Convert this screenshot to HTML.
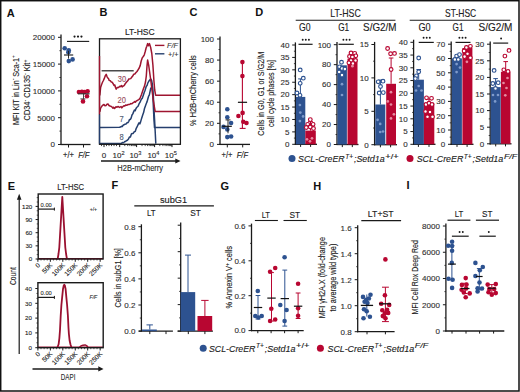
<!DOCTYPE html>
<html><head><meta charset="utf-8"><style>
html,body{margin:0;padding:0;background:#fff;}
body{width:520px;height:392px;overflow:hidden;}
svg{display:block;font-family:"Liberation Sans", sans-serif;}
</style></head><body>
<svg width="520" height="392" viewBox="0 0 520 392">
<rect x="0" y="0" width="520" height="392" fill="#fff"/>
<text transform="translate(6.80 16.60)" font-size="11" text-anchor="start" fill="#111" font-weight="bold">A</text>
<text transform="translate(99.60 16.40)" font-size="11" text-anchor="start" fill="#111" font-weight="bold">B</text>
<text transform="translate(189.60 16.40)" font-size="11" text-anchor="start" fill="#111" font-weight="bold">C</text>
<text transform="translate(255.20 16.30)" font-size="11" text-anchor="start" fill="#111" font-weight="bold">D</text>
<text transform="translate(7.70 189.80)" font-size="11" text-anchor="start" fill="#111" font-weight="bold">E</text>
<text transform="translate(111.40 189.20)" font-size="11" text-anchor="start" fill="#111" font-weight="bold">F</text>
<text transform="translate(220.40 190.30)" font-size="11" text-anchor="start" fill="#111" font-weight="bold">G</text>
<text transform="translate(313.20 190.30)" font-size="11" text-anchor="start" fill="#111" font-weight="bold">H</text>
<text transform="translate(406.60 188.60)" font-size="11" text-anchor="start" fill="#111" font-weight="bold">I</text>
<line x1="61.00" y1="34.60" x2="61.00" y2="145.10" stroke="#1a1a1a" stroke-width="1.3" />
<line x1="60.40" y1="144.50" x2="90.50" y2="144.50" stroke="#1a1a1a" stroke-width="1.3" />
<line x1="58.00" y1="144.50" x2="61.00" y2="144.50" stroke="#1a1a1a" stroke-width="1" />
<text transform="translate(55.00 147.30)" font-size="8.0" text-anchor="end" fill="#303030" stroke="#303030" stroke-width="0.12">0</text>
<line x1="59.40" y1="131.10" x2="61.00" y2="131.10" stroke="#1a1a1a" stroke-width="0.8" />
<line x1="58.00" y1="117.70" x2="61.00" y2="117.70" stroke="#1a1a1a" stroke-width="1" />
<text transform="translate(55.00 120.50)" font-size="8.0" text-anchor="end" fill="#303030" stroke="#303030" stroke-width="0.12">5000</text>
<line x1="59.40" y1="104.30" x2="61.00" y2="104.30" stroke="#1a1a1a" stroke-width="0.8" />
<line x1="58.00" y1="90.90" x2="61.00" y2="90.90" stroke="#1a1a1a" stroke-width="1" />
<text transform="translate(55.00 93.70)" font-size="8.0" text-anchor="end" fill="#303030" stroke="#303030" stroke-width="0.12">10000</text>
<line x1="59.40" y1="77.50" x2="61.00" y2="77.50" stroke="#1a1a1a" stroke-width="0.8" />
<line x1="58.00" y1="64.10" x2="61.00" y2="64.10" stroke="#1a1a1a" stroke-width="1" />
<text transform="translate(55.00 66.90)" font-size="8.0" text-anchor="end" fill="#303030" stroke="#303030" stroke-width="0.12">15000</text>
<line x1="59.40" y1="50.70" x2="61.00" y2="50.70" stroke="#1a1a1a" stroke-width="0.8" />
<line x1="58.00" y1="37.30" x2="61.00" y2="37.30" stroke="#1a1a1a" stroke-width="1" />
<text transform="translate(55.00 40.10)" font-size="8.0" text-anchor="end" fill="#303030" stroke="#303030" stroke-width="0.12">20000</text>
<line x1="68.50" y1="144.50" x2="68.50" y2="147.50" stroke="#1a1a1a" stroke-width="1" />
<line x1="83.50" y1="144.50" x2="83.50" y2="147.50" stroke="#1a1a1a" stroke-width="1" />
<text transform="translate(68.50 158.40) scale(0.92 1)" font-size="8.2" text-anchor="middle" fill="#202020" stroke="#202020" stroke-width="0.12">+/+</text>
<text transform="translate(83.80 158.40) scale(0.92 1)" font-size="8.2" text-anchor="middle" fill="#202020" font-style="italic" stroke="#202020" stroke-width="0.12">F/F</text>
<circle cx="74.55" cy="36.60" r="1.1" fill="#1a1a1a" stroke="none" stroke-width="0"/>
<circle cx="78.00" cy="36.60" r="1.1" fill="#1a1a1a" stroke="none" stroke-width="0"/>
<circle cx="81.45" cy="36.60" r="1.1" fill="#1a1a1a" stroke="none" stroke-width="0"/>
<line x1="67.00" y1="41.40" x2="89.20" y2="41.40" stroke="#1a1a1a" stroke-width="1.1" />
<circle cx="64.70" cy="48.20" r="2.3" fill="#2d5290" stroke="none" stroke-width="0"/>
<circle cx="68.80" cy="50.40" r="2.3" fill="#2d5290" stroke="none" stroke-width="0"/>
<circle cx="68.30" cy="52.30" r="2.3" fill="#2d5290" stroke="none" stroke-width="0"/>
<circle cx="72.60" cy="59.40" r="2.3" fill="#2d5290" stroke="none" stroke-width="0"/>
<circle cx="68.80" cy="61.10" r="2.3" fill="#2d5290" stroke="none" stroke-width="0"/>
<line x1="68.50" y1="50.90" x2="68.50" y2="58.60" stroke="#1a1a1a" stroke-width="0.9" />
<line x1="64.00" y1="55.00" x2="73.20" y2="55.00" stroke="#1a1a1a" stroke-width="1.1" />
<circle cx="78.90" cy="92.00" r="2.3" fill="#b80631" stroke="none" stroke-width="0"/>
<circle cx="81.90" cy="91.70" r="2.3" fill="#b80631" stroke="none" stroke-width="0"/>
<circle cx="84.50" cy="92.00" r="2.3" fill="#b80631" stroke="none" stroke-width="0"/>
<circle cx="87.60" cy="91.20" r="2.3" fill="#b80631" stroke="none" stroke-width="0"/>
<circle cx="87.00" cy="96.30" r="2.3" fill="#b80631" stroke="none" stroke-width="0"/>
<circle cx="83.00" cy="101.40" r="2.3" fill="#b80631" stroke="none" stroke-width="0"/>
<line x1="77.90" y1="93.80" x2="89.60" y2="93.80" stroke="#333" stroke-width="1.1" />
<line x1="83.50" y1="93.80" x2="83.50" y2="98.90" stroke="#333" stroke-width="0.9" />
<line x1="80.40" y1="98.90" x2="85.50" y2="98.90" stroke="#333" stroke-width="0.9" />
<text transform="translate(18.60 90.05) rotate(-90)" font-size="9.0" text-anchor="middle" fill="#202020" textLength="69.9" lengthAdjust="spacingAndGlyphs" stroke="#202020" stroke-width="0.12">MFI KIT in Lin<tspan font-size='6' dy='-3.2'>-</tspan><tspan dy='3.2'> Sca-1</tspan><tspan font-size='6' dy='-3.2'>+</tspan></text>
<text transform="translate(30.20 90.05) rotate(-90)" font-size="9.0" text-anchor="middle" fill="#202020" textLength="60.7" lengthAdjust="spacingAndGlyphs" stroke="#202020" stroke-width="0.12">CD34<tspan font-size='6' dy='-3.2'>-</tspan><tspan dy='3.2'> CD135</tspan><tspan font-size='6' dy='-3.2'>-</tspan><tspan dy='3.2'> Kit</tspan><tspan font-size='6' dy='-3.2'>+</tspan></text>
<text transform="translate(139.80 35.20)" font-size="9.8" text-anchor="middle" fill="#202020" textLength="29.8" lengthAdjust="spacingAndGlyphs" stroke="#202020" stroke-width="0.12">LT-HSC</text>
<line x1="155.00" y1="45.40" x2="164.40" y2="45.40" stroke="#9e1530" stroke-width="1.4" />
<line x1="155.00" y1="53.80" x2="164.40" y2="53.80" stroke="#253f6e" stroke-width="1.4" />
<text transform="translate(172.40 48.40)" font-size="8.0" text-anchor="middle" fill="#333" font-style="italic" textLength="11.0" lengthAdjust="spacingAndGlyphs" stroke="#333" stroke-width="0.12">F/F</text>
<text transform="translate(173.20 57.00)" font-size="8.0" text-anchor="middle" fill="#333" textLength="10.5" lengthAdjust="spacingAndGlyphs" stroke="#333" stroke-width="0.12">+/+</text>
<line x1="101.60" y1="70.80" x2="133.70" y2="70.80" stroke="#4a4a4a" stroke-width="1.4" />
<path d="M99.8,143.6 L121.4,143.4 L122.3,142.4 L123.1,142.8 L124.0,142.3 L124.8,141.5 L125.5,141.5 L126.3,140.7 L127.4,140.2 L128.5,139.0 L129.4,137.0 L130.4,137.0 L131.4,134.0 L132.4,133.4 L133.2,133.5 L134.0,132.0 L135.3,131.3 L136.1,128.7 L136.9,127.2 L138.2,124.4 L139.0,122.9 L139.8,123.9 L140.6,121.9 L141.6,118.4 L142.7,115.0 L143.6,112.6 L144.5,108.5 L145.4,105.9 L146.3,103.5 L147.1,101.6 L147.8,99.0 L148.6,96.2 L149.3,95.1 L150.7,88.5 L151.5,87.5 L152.4,86.8 L153.3,95.0 L153.9,108.3 L154.6,120.0 L155.2,131.8 L155.8,143.6" stroke="#253f6e" stroke-width="1.5" fill="none" stroke-linejoin="round" />
<path d="M99.8,127.6 L119.4,127.3 L120.5,127.1 L121.5,126.3 L122.3,126.6 L123.1,125.2 L124.0,124.8 L125.0,124.2 L126.0,124.1 L127.1,122.8 L128.0,122.5 L128.8,121.3 L129.6,119.4 L130.4,119.5 L131.2,117.9 L132.0,115.0 L132.8,113.9 L133.6,111.9 L134.4,110.0 L135.2,110.7 L136.0,108.5 L136.8,107.3 L137.5,106.7 L138.2,106.0 L139.0,103.9 L140.1,102.2 L141.2,99.5 L142.3,98.3 L143.4,95.1 L144.2,92.5 L145.0,90.5 L146.3,86.3 L147.1,85.4 L147.8,83.0 L148.6,81.6 L149.3,80.5 L150.7,79.0 L151.6,80.5 L152.3,84.0 L152.9,95.0 L153.5,110.0 L154.0,120.0 L154.5,127.6 L180.4,127.6" stroke="#253f6e" stroke-width="1.5" fill="none" stroke-linejoin="round" />
<path d="M99.8,111.8 L100.5,108.5 L101.3,107.0 L102.0,106.0 L103.0,105.0 L104.0,104.5 L105.0,105.8 L106.0,105.5 L107.0,104.3 L108.0,104.0 L109.0,105.5 L110.0,106.0 L111.0,106.3 L112.0,107.0 L112.8,108.1 L113.5,107.2 L114.2,108.5 L115.0,108.0 L116.0,106.7 L117.0,107.3 L117.9,106.5 L118.7,106.8 L119.6,107.5 L121.0,106.5 L121.8,107.9 L122.5,107.0 L123.3,106.2 L124.2,105.7 L125.0,105.9 L125.7,105.0 L126.5,105.3 L127.3,105.1 L128.0,104.6 L128.8,104.6 L130.0,104.2 L130.8,103.6 L131.5,103.8 L132.3,103.5 L133.1,102.7 L133.8,102.3 L134.6,101.5 L135.3,102.3 L136.1,101.2 L137.5,100.3 L138.7,99.6 L139.6,98.9 L140.4,97.3 L141.5,94.5 L142.5,91.5 L143.5,88.5 L144.5,86.1 L145.5,82.0 L146.3,76.0 L147.0,66.0 L147.6,60.0 L148.8,66.0 L150.8,80.5 L152.0,90.0 L153.2,99.5 L154.2,106.0 L155.2,111.6 L180.4,111.6" stroke="#9e1530" stroke-width="1.5" fill="none" stroke-linejoin="round" />
<path d="M99.8,95.5 L100.6,87.6 L101.6,84.5 L102.6,82.0 L103.4,80.5 L104.1,78.9 L105.2,76.0 L106.2,74.3 L107.0,76.5 L107.7,77.9 L108.5,78.5 L109.2,80.4 L110.3,80.8 L111.3,82.0 L112.3,82.3 L113.3,84.0 L114.0,85.5 L114.8,85.0 L115.5,87.5 L116.2,89.1 L117.2,87.5 L118.4,87.6 L119.8,86.2 L120.7,86.7 L121.5,85.5 L122.2,86.9 L123.0,86.0 L123.8,85.9 L124.5,85.0 L125.6,83.2 L126.6,82.0 L128.0,80.5 L128.8,78.9 L129.6,78.9 L130.7,78.6 L131.7,77.3 L132.7,76.0 L133.7,74.3 L134.8,74.0 L135.8,72.8 L137.0,71.5 L138.2,69.6 L139.2,68.0 L140.2,65.6 L141.2,61.0 L142.2,57.9 L143.3,56.5 L144.3,54.8 L145.3,51.3 L146.1,48.0 L146.8,46.2 L147.6,43.6 L148.4,45.7 L149.4,43.6 L150.6,47.2 L151.8,53.5 L152.9,65.0 L153.9,80.5 L154.7,90.0 L155.6,95.2 L180.4,95.2" stroke="#9e1530" stroke-width="1.5" fill="none" stroke-linejoin="round" />
<text transform="translate(122.00 82.00) scale(0.92 1)" font-size="8.2" text-anchor="middle" fill="#9a5060" stroke="#9a5060" stroke-width="0.12">30</text>
<text transform="translate(121.80 103.20) scale(0.92 1)" font-size="8.2" text-anchor="middle" fill="#9a5060" stroke="#9a5060" stroke-width="0.12">20</text>
<text transform="translate(121.60 122.00) scale(0.92 1)" font-size="8.2" text-anchor="middle" fill="#4e5a74" stroke="#4e5a74" stroke-width="0.12">7</text>
<text transform="translate(121.60 139.60) scale(0.92 1)" font-size="8.2" text-anchor="middle" fill="#4e5a74" stroke="#4e5a74" stroke-width="0.12">8</text>
<rect x="99.5" y="38.8" width="80.9" height="105.50000000000001" fill="none" stroke="#1a1a1a" stroke-width="1.3"/>
<line x1="99.50" y1="56.00" x2="99.50" y2="114.50" stroke="#9e1530" stroke-width="1.4" />
<line x1="99.50" y1="114.50" x2="99.50" y2="143.60" stroke="#253f6e" stroke-width="1.4" />
<line x1="104.00" y1="144.30" x2="104.00" y2="147.10" stroke="#1a1a1a" stroke-width="1.0" />
<line x1="119.70" y1="144.30" x2="119.70" y2="147.10" stroke="#1a1a1a" stroke-width="1.0" />
<line x1="136.60" y1="144.30" x2="136.60" y2="147.10" stroke="#1a1a1a" stroke-width="1.0" />
<line x1="154.60" y1="144.30" x2="154.60" y2="147.10" stroke="#1a1a1a" stroke-width="1.0" />
<line x1="172.00" y1="144.30" x2="172.00" y2="147.10" stroke="#1a1a1a" stroke-width="1.0" />
<line x1="124.79" y1="144.30" x2="124.79" y2="146.10" stroke="#1a1a1a" stroke-width="0.8" />
<line x1="127.76" y1="144.30" x2="127.76" y2="146.10" stroke="#1a1a1a" stroke-width="0.8" />
<line x1="129.87" y1="144.30" x2="129.87" y2="146.10" stroke="#1a1a1a" stroke-width="0.8" />
<line x1="131.51" y1="144.30" x2="131.51" y2="146.10" stroke="#1a1a1a" stroke-width="0.8" />
<line x1="132.85" y1="144.30" x2="132.85" y2="146.10" stroke="#1a1a1a" stroke-width="0.8" />
<line x1="133.98" y1="144.30" x2="133.98" y2="146.10" stroke="#1a1a1a" stroke-width="0.8" />
<line x1="134.96" y1="144.30" x2="134.96" y2="146.10" stroke="#1a1a1a" stroke-width="0.8" />
<line x1="135.83" y1="144.30" x2="135.83" y2="146.10" stroke="#1a1a1a" stroke-width="0.8" />
<line x1="142.02" y1="144.30" x2="142.02" y2="146.10" stroke="#1a1a1a" stroke-width="0.8" />
<line x1="145.19" y1="144.30" x2="145.19" y2="146.10" stroke="#1a1a1a" stroke-width="0.8" />
<line x1="147.44" y1="144.30" x2="147.44" y2="146.10" stroke="#1a1a1a" stroke-width="0.8" />
<line x1="149.18" y1="144.30" x2="149.18" y2="146.10" stroke="#1a1a1a" stroke-width="0.8" />
<line x1="150.61" y1="144.30" x2="150.61" y2="146.10" stroke="#1a1a1a" stroke-width="0.8" />
<line x1="151.81" y1="144.30" x2="151.81" y2="146.10" stroke="#1a1a1a" stroke-width="0.8" />
<line x1="152.86" y1="144.30" x2="152.86" y2="146.10" stroke="#1a1a1a" stroke-width="0.8" />
<line x1="153.78" y1="144.30" x2="153.78" y2="146.10" stroke="#1a1a1a" stroke-width="0.8" />
<line x1="159.84" y1="144.30" x2="159.84" y2="146.10" stroke="#1a1a1a" stroke-width="0.8" />
<line x1="162.90" y1="144.30" x2="162.90" y2="146.10" stroke="#1a1a1a" stroke-width="0.8" />
<line x1="165.08" y1="144.30" x2="165.08" y2="146.10" stroke="#1a1a1a" stroke-width="0.8" />
<line x1="166.76" y1="144.30" x2="166.76" y2="146.10" stroke="#1a1a1a" stroke-width="0.8" />
<line x1="168.14" y1="144.30" x2="168.14" y2="146.10" stroke="#1a1a1a" stroke-width="0.8" />
<line x1="169.30" y1="144.30" x2="169.30" y2="146.10" stroke="#1a1a1a" stroke-width="0.8" />
<line x1="170.31" y1="144.30" x2="170.31" y2="146.10" stroke="#1a1a1a" stroke-width="0.8" />
<line x1="171.20" y1="144.30" x2="171.20" y2="146.10" stroke="#1a1a1a" stroke-width="0.8" />
<line x1="101.50" y1="144.30" x2="101.50" y2="146.10" stroke="#1a1a1a" stroke-width="0.8" />
<line x1="106.50" y1="144.30" x2="106.50" y2="146.10" stroke="#1a1a1a" stroke-width="0.8" />
<line x1="109.00" y1="144.30" x2="109.00" y2="146.10" stroke="#1a1a1a" stroke-width="0.8" />
<line x1="111.50" y1="144.30" x2="111.50" y2="146.10" stroke="#1a1a1a" stroke-width="0.8" />
<line x1="114.00" y1="144.30" x2="114.00" y2="146.10" stroke="#1a1a1a" stroke-width="0.8" />
<line x1="116.50" y1="144.30" x2="116.50" y2="146.10" stroke="#1a1a1a" stroke-width="0.8" />
<text transform="translate(104.00 158.20)" font-size="8.0" text-anchor="middle" fill="#2a2a2a" stroke="#2a2a2a" stroke-width="0.12">0</text>
<text transform="translate(118.50 158.20)" font-size="8.0" text-anchor="middle" fill="#2a2a2a" stroke="#2a2a2a" stroke-width="0.12">10<tspan font-size='5.6' dy='-3.4'>2</tspan></text>
<text transform="translate(135.40 158.20)" font-size="8.0" text-anchor="middle" fill="#2a2a2a" stroke="#2a2a2a" stroke-width="0.12">10<tspan font-size='5.6' dy='-3.4'>3</tspan></text>
<text transform="translate(153.40 158.20)" font-size="8.0" text-anchor="middle" fill="#2a2a2a" stroke="#2a2a2a" stroke-width="0.12">10<tspan font-size='5.6' dy='-3.4'>4</tspan></text>
<text transform="translate(170.80 158.20)" font-size="8.0" text-anchor="middle" fill="#2a2a2a" stroke="#2a2a2a" stroke-width="0.12">10<tspan font-size='5.6' dy='-3.4'>5</tspan></text>
<line x1="101.00" y1="160.90" x2="176.50" y2="160.90" stroke="#1a1a1a" stroke-width="1.5" />
<path d="M175.3,158.4 L180.5,161 L175.3,163.6 Z" fill="#1a1a1a"/>
<text transform="translate(140.20 171.30)" font-size="9.6" text-anchor="middle" fill="#2a2a2a" textLength="45.8" lengthAdjust="spacingAndGlyphs" stroke="#2a2a2a" stroke-width="0.12">H2B-mCherry</text>
<line x1="220.00" y1="36.60" x2="220.00" y2="145.00" stroke="#1a1a1a" stroke-width="1.3" />
<line x1="219.40" y1="144.40" x2="250.00" y2="144.40" stroke="#1a1a1a" stroke-width="1.3" />
<line x1="217.00" y1="144.40" x2="220.00" y2="144.40" stroke="#1a1a1a" stroke-width="1" />
<text transform="translate(214.00 147.20)" font-size="8.0" text-anchor="end" fill="#303030" stroke="#303030" stroke-width="0.12">0</text>
<line x1="218.50" y1="133.86" x2="220.00" y2="133.86" stroke="#1a1a1a" stroke-width="0.8" />
<line x1="217.00" y1="123.32" x2="220.00" y2="123.32" stroke="#1a1a1a" stroke-width="1" />
<text transform="translate(214.00 126.12)" font-size="8.0" text-anchor="end" fill="#303030" stroke="#303030" stroke-width="0.12">20</text>
<line x1="218.50" y1="112.78" x2="220.00" y2="112.78" stroke="#1a1a1a" stroke-width="0.8" />
<line x1="217.00" y1="102.24" x2="220.00" y2="102.24" stroke="#1a1a1a" stroke-width="1" />
<text transform="translate(214.00 105.04)" font-size="8.0" text-anchor="end" fill="#303030" stroke="#303030" stroke-width="0.12">40</text>
<line x1="218.50" y1="91.70" x2="220.00" y2="91.70" stroke="#1a1a1a" stroke-width="0.8" />
<line x1="217.00" y1="81.16" x2="220.00" y2="81.16" stroke="#1a1a1a" stroke-width="1" />
<text transform="translate(214.00 83.96)" font-size="8.0" text-anchor="end" fill="#303030" stroke="#303030" stroke-width="0.12">60</text>
<line x1="218.50" y1="70.62" x2="220.00" y2="70.62" stroke="#1a1a1a" stroke-width="0.8" />
<line x1="217.00" y1="60.08" x2="220.00" y2="60.08" stroke="#1a1a1a" stroke-width="1" />
<text transform="translate(214.00 62.88)" font-size="8.0" text-anchor="end" fill="#303030" stroke="#303030" stroke-width="0.12">80</text>
<line x1="218.50" y1="49.54" x2="220.00" y2="49.54" stroke="#1a1a1a" stroke-width="0.8" />
<line x1="217.00" y1="39.00" x2="220.00" y2="39.00" stroke="#1a1a1a" stroke-width="1" />
<text transform="translate(214.00 41.80)" font-size="8.0" text-anchor="end" fill="#303030" stroke="#303030" stroke-width="0.12">100</text>
<line x1="227.30" y1="144.40" x2="227.30" y2="147.40" stroke="#1a1a1a" stroke-width="1" />
<line x1="242.70" y1="144.40" x2="242.70" y2="147.40" stroke="#1a1a1a" stroke-width="1" />
<text transform="translate(227.00 158.00) scale(0.92 1)" font-size="8.2" text-anchor="middle" fill="#202020" stroke="#202020" stroke-width="0.12">+/+</text>
<text transform="translate(242.40 158.00) scale(0.92 1)" font-size="8.2" text-anchor="middle" fill="#202020" font-style="italic" stroke="#202020" stroke-width="0.12">F/F</text>
<text transform="translate(196.40 90.55) rotate(-90)" font-size="9.0" text-anchor="middle" fill="#202020" textLength="70.7" lengthAdjust="spacingAndGlyphs" stroke="#202020" stroke-width="0.12">% H2B-mCherry cells</text>
<line x1="242.40" y1="62.00" x2="242.40" y2="128.40" stroke="#b80631" stroke-width="1.1" />
<line x1="239.70" y1="128.40" x2="245.60" y2="128.40" stroke="#b80631" stroke-width="1.1" />
<line x1="237.90" y1="102.30" x2="247.10" y2="102.30" stroke="#111" stroke-width="1.2" />
<circle cx="242.40" cy="62.10" r="2.3" fill="#b80631" stroke="none" stroke-width="0"/>
<circle cx="242.40" cy="76.10" r="2.3" fill="#b80631" stroke="none" stroke-width="0"/>
<circle cx="242.60" cy="112.90" r="2.3" fill="#b80631" stroke="none" stroke-width="0"/>
<circle cx="238.40" cy="116.00" r="2.3" fill="#b80631" stroke="none" stroke-width="0"/>
<circle cx="243.30" cy="121.80" r="2.3" fill="#b80631" stroke="none" stroke-width="0"/>
<circle cx="246.50" cy="123.00" r="2.3" fill="#b80631" stroke="none" stroke-width="0"/>
<circle cx="227.30" cy="109.30" r="2.3" fill="#2d5290" stroke="none" stroke-width="0"/>
<circle cx="227.30" cy="117.30" r="2.3" fill="#2d5290" stroke="none" stroke-width="0"/>
<circle cx="231.10" cy="123.00" r="2.3" fill="#2d5290" stroke="none" stroke-width="0"/>
<circle cx="223.50" cy="126.90" r="2.3" fill="#2d5290" stroke="none" stroke-width="0"/>
<circle cx="227.30" cy="129.40" r="2.3" fill="#2d5290" stroke="none" stroke-width="0"/>
<circle cx="227.30" cy="137.10" r="2.3" fill="#2d5290" stroke="none" stroke-width="0"/>
<circle cx="231.10" cy="136.50" r="2.3" fill="#2d5290" stroke="none" stroke-width="0"/>
<line x1="228.00" y1="119.90" x2="228.00" y2="133.30" stroke="#111" stroke-width="0.9" />
<line x1="225.50" y1="119.90" x2="230.50" y2="119.90" stroke="#111" stroke-width="0.9" />
<line x1="222.20" y1="126.30" x2="231.80" y2="126.30" stroke="#111" stroke-width="1.2" />
<text transform="translate(345.50 16.60)" font-size="10.4" text-anchor="middle" fill="#202020" textLength="30.5" lengthAdjust="spacingAndGlyphs" stroke="#202020" stroke-width="0.12">LT-HSC</text>
<text transform="translate(460.60 16.80)" font-size="10.4" text-anchor="middle" fill="#202020" textLength="31.2" lengthAdjust="spacingAndGlyphs" stroke="#202020" stroke-width="0.12">ST-HSC</text>
<line x1="295.70" y1="20.30" x2="395.40" y2="20.30" stroke="#1a1a1a" stroke-width="1.1" />
<line x1="409.70" y1="20.30" x2="510.30" y2="20.30" stroke="#1a1a1a" stroke-width="1.1" />
<text transform="translate(304.70 31.30)" font-size="10.2" text-anchor="middle" fill="#202020" textLength="11.6" lengthAdjust="spacingAndGlyphs" stroke="#202020" stroke-width="0.12">G0</text>
<text transform="translate(343.70 31.30)" font-size="10.2" text-anchor="middle" fill="#202020" textLength="11" lengthAdjust="spacingAndGlyphs" stroke="#202020" stroke-width="0.12">G1</text>
<text transform="translate(379.80 31.30)" font-size="10.2" text-anchor="middle" fill="#202020" textLength="33.4" lengthAdjust="spacingAndGlyphs" stroke="#202020" stroke-width="0.12">S/G2/M</text>
<text transform="translate(424.60 31.30)" font-size="10.2" text-anchor="middle" fill="#202020" textLength="12.2" lengthAdjust="spacingAndGlyphs" stroke="#202020" stroke-width="0.12">G0</text>
<text transform="translate(458.00 31.30)" font-size="10.2" text-anchor="middle" fill="#202020" textLength="10.9" lengthAdjust="spacingAndGlyphs" stroke="#202020" stroke-width="0.12">G1</text>
<text transform="translate(495.50 31.30)" font-size="10.2" text-anchor="middle" fill="#202020" textLength="33.9" lengthAdjust="spacingAndGlyphs" stroke="#202020" stroke-width="0.12">S/G2/M</text>
<line x1="295.40" y1="42.40" x2="295.40" y2="144.90" stroke="#1a1a1a" stroke-width="1.3" />
<line x1="292.20" y1="144.30" x2="295.40" y2="144.30" stroke="#1a1a1a" stroke-width="1" />
<text transform="translate(289.40 147.10)" font-size="8.0" text-anchor="end" fill="#303030" stroke="#303030" stroke-width="0.12">0</text>
<line x1="292.20" y1="131.89" x2="295.40" y2="131.89" stroke="#1a1a1a" stroke-width="1" />
<text transform="translate(289.40 134.69)" font-size="8.0" text-anchor="end" fill="#303030" stroke="#303030" stroke-width="0.12">5</text>
<line x1="292.20" y1="119.48" x2="295.40" y2="119.48" stroke="#1a1a1a" stroke-width="1" />
<text transform="translate(289.40 122.28)" font-size="8.0" text-anchor="end" fill="#303030" stroke="#303030" stroke-width="0.12">10</text>
<line x1="292.20" y1="107.06" x2="295.40" y2="107.06" stroke="#1a1a1a" stroke-width="1" />
<text transform="translate(289.40 109.86)" font-size="8.0" text-anchor="end" fill="#303030" stroke="#303030" stroke-width="0.12">15</text>
<line x1="292.20" y1="94.65" x2="295.40" y2="94.65" stroke="#1a1a1a" stroke-width="1" />
<text transform="translate(289.40 97.45)" font-size="8.0" text-anchor="end" fill="#303030" stroke="#303030" stroke-width="0.12">20</text>
<line x1="292.20" y1="82.24" x2="295.40" y2="82.24" stroke="#1a1a1a" stroke-width="1" />
<text transform="translate(289.40 85.04)" font-size="8.0" text-anchor="end" fill="#303030" stroke="#303030" stroke-width="0.12">25</text>
<line x1="292.20" y1="69.83" x2="295.40" y2="69.83" stroke="#1a1a1a" stroke-width="1" />
<text transform="translate(289.40 72.62)" font-size="8.0" text-anchor="end" fill="#303030" stroke="#303030" stroke-width="0.12">30</text>
<line x1="292.20" y1="57.41" x2="295.40" y2="57.41" stroke="#1a1a1a" stroke-width="1" />
<text transform="translate(289.40 60.21)" font-size="8.0" text-anchor="end" fill="#303030" stroke="#303030" stroke-width="0.12">35</text>
<line x1="292.20" y1="45.00" x2="295.40" y2="45.00" stroke="#1a1a1a" stroke-width="1" />
<text transform="translate(289.40 47.80)" font-size="8.0" text-anchor="end" fill="#303030" stroke="#303030" stroke-width="0.12">40</text>
<line x1="293.90" y1="138.09" x2="295.40" y2="138.09" stroke="#1a1a1a" stroke-width="0.8" />
<line x1="293.90" y1="125.68" x2="295.40" y2="125.68" stroke="#1a1a1a" stroke-width="0.8" />
<line x1="293.90" y1="113.27" x2="295.40" y2="113.27" stroke="#1a1a1a" stroke-width="0.8" />
<line x1="293.90" y1="100.86" x2="295.40" y2="100.86" stroke="#1a1a1a" stroke-width="0.8" />
<line x1="293.90" y1="88.44" x2="295.40" y2="88.44" stroke="#1a1a1a" stroke-width="0.8" />
<line x1="293.90" y1="76.03" x2="295.40" y2="76.03" stroke="#1a1a1a" stroke-width="0.8" />
<line x1="293.90" y1="63.62" x2="295.40" y2="63.62" stroke="#1a1a1a" stroke-width="0.8" />
<line x1="293.90" y1="51.21" x2="295.40" y2="51.21" stroke="#1a1a1a" stroke-width="0.8" />
<line x1="294.90" y1="144.30" x2="317.00" y2="144.30" stroke="#1a1a1a" stroke-width="1.3" />
<line x1="300.60" y1="144.30" x2="300.60" y2="146.90" stroke="#1a1a1a" stroke-width="1" />
<line x1="310.60" y1="144.30" x2="310.60" y2="146.90" stroke="#1a1a1a" stroke-width="1" />
<line x1="300.40" y1="96.90" x2="300.40" y2="78.90" stroke="#2d5290" stroke-width="1.0" />
<line x1="298.10" y1="78.90" x2="302.70" y2="78.90" stroke="#2d5290" stroke-width="1.0" />
<rect x="295.90" y="96.90" width="9.40" height="47.40" fill="#2d5290" stroke="none" stroke-width="0"/>
<rect x="305.30" y="130.60" width="10.50" height="13.70" fill="#b80631" stroke="none" stroke-width="0"/>
<line x1="310.50" y1="130.60" x2="310.50" y2="121.50" stroke="#b80631" stroke-width="1.0" />
<line x1="308.20" y1="121.50" x2="312.80" y2="121.50" stroke="#b80631" stroke-width="1.0" />
<circle cx="300.20" cy="69.90" r="1.85" fill="#ffffff" stroke="#2d5290" stroke-width="1.15"/>
<circle cx="303.30" cy="78.20" r="1.85" fill="#ffffff" stroke="#2d5290" stroke-width="1.15"/>
<circle cx="300.20" cy="83.30" r="1.85" fill="#ffffff" stroke="#2d5290" stroke-width="1.15"/>
<circle cx="296.90" cy="93.00" r="1.85" fill="#ffffff" stroke="#2d5290" stroke-width="1.15"/>
<circle cx="300.00" cy="95.30" r="1.85" fill="#ffffff" stroke="#2d5290" stroke-width="1.15"/>
<circle cx="299.90" cy="105.00" r="1.35" fill="#7f9bcb" stroke="none" stroke-width="0"/>
<circle cx="300.30" cy="112.60" r="1.35" fill="#7f9bcb" stroke="none" stroke-width="0"/>
<circle cx="303.10" cy="116.40" r="1.35" fill="#7f9bcb" stroke="none" stroke-width="0"/>
<circle cx="299.90" cy="121.10" r="1.35" fill="#7f9bcb" stroke="none" stroke-width="0"/>
<circle cx="310.30" cy="119.60" r="1.85" fill="#ffffff" stroke="#b80631" stroke-width="1.15"/>
<circle cx="307.70" cy="124.30" r="1.85" fill="#ffffff" stroke="#b80631" stroke-width="1.15"/>
<circle cx="313.10" cy="124.30" r="1.85" fill="#ffffff" stroke="#b80631" stroke-width="1.15"/>
<circle cx="310.30" cy="127.00" r="1.85" fill="#ffffff" stroke="#b80631" stroke-width="1.15"/>
<circle cx="306.30" cy="127.50" r="1.85" fill="#ffffff" stroke="#b80631" stroke-width="1.15"/>
<circle cx="313.50" cy="128.50" r="1.85" fill="#ffffff" stroke="#b80631" stroke-width="1.15"/>
<circle cx="307.00" cy="139.30" r="1.35" fill="#e58aa0" stroke="none" stroke-width="0"/>
<circle cx="312.00" cy="138.30" r="1.35" fill="#e58aa0" stroke="none" stroke-width="0"/>
<circle cx="310.00" cy="141.30" r="1.35" fill="#e58aa0" stroke="none" stroke-width="0"/>
<circle cx="302.70" cy="39.70" r="0.95" fill="#1a1a1a" stroke="none" stroke-width="0"/>
<circle cx="305.80" cy="39.70" r="0.95" fill="#1a1a1a" stroke="none" stroke-width="0"/>
<circle cx="308.90" cy="39.70" r="0.95" fill="#1a1a1a" stroke="none" stroke-width="0"/>
<line x1="298.50" y1="44.30" x2="312.60" y2="44.30" stroke="#1a1a1a" stroke-width="1.2" />
<line x1="337.00" y1="42.10" x2="337.00" y2="145.10" stroke="#1a1a1a" stroke-width="1.3" />
<line x1="333.80" y1="144.50" x2="337.00" y2="144.50" stroke="#1a1a1a" stroke-width="1" />
<text transform="translate(331.00 147.30)" font-size="8.0" text-anchor="end" fill="#303030" stroke="#303030" stroke-width="0.12">0</text>
<line x1="333.80" y1="124.54" x2="337.00" y2="124.54" stroke="#1a1a1a" stroke-width="1" />
<text transform="translate(331.00 127.34)" font-size="8.0" text-anchor="end" fill="#303030" stroke="#303030" stroke-width="0.12">20</text>
<line x1="333.80" y1="104.58" x2="337.00" y2="104.58" stroke="#1a1a1a" stroke-width="1" />
<text transform="translate(331.00 107.38)" font-size="8.0" text-anchor="end" fill="#303030" stroke="#303030" stroke-width="0.12">40</text>
<line x1="333.80" y1="84.62" x2="337.00" y2="84.62" stroke="#1a1a1a" stroke-width="1" />
<text transform="translate(331.00 87.42)" font-size="8.0" text-anchor="end" fill="#303030" stroke="#303030" stroke-width="0.12">60</text>
<line x1="333.80" y1="64.66" x2="337.00" y2="64.66" stroke="#1a1a1a" stroke-width="1" />
<text transform="translate(331.00 67.46)" font-size="8.0" text-anchor="end" fill="#303030" stroke="#303030" stroke-width="0.12">80</text>
<line x1="333.80" y1="44.70" x2="337.00" y2="44.70" stroke="#1a1a1a" stroke-width="1" />
<text transform="translate(331.00 47.50)" font-size="8.0" text-anchor="end" fill="#303030" stroke="#303030" stroke-width="0.12">100</text>
<line x1="335.50" y1="134.52" x2="337.00" y2="134.52" stroke="#1a1a1a" stroke-width="0.8" />
<line x1="335.50" y1="114.56" x2="337.00" y2="114.56" stroke="#1a1a1a" stroke-width="0.8" />
<line x1="335.50" y1="94.60" x2="337.00" y2="94.60" stroke="#1a1a1a" stroke-width="0.8" />
<line x1="335.50" y1="74.64" x2="337.00" y2="74.64" stroke="#1a1a1a" stroke-width="0.8" />
<line x1="335.50" y1="54.68" x2="337.00" y2="54.68" stroke="#1a1a1a" stroke-width="0.8" />
<line x1="336.50" y1="144.50" x2="358.50" y2="144.50" stroke="#1a1a1a" stroke-width="1.3" />
<line x1="342.30" y1="144.50" x2="342.30" y2="147.10" stroke="#1a1a1a" stroke-width="1" />
<line x1="352.30" y1="144.50" x2="352.30" y2="147.10" stroke="#1a1a1a" stroke-width="1" />
<rect x="337.50" y="65.30" width="9.40" height="79.20" fill="#2d5290" stroke="none" stroke-width="0"/>
<rect x="347.50" y="58.80" width="10.00" height="85.70" fill="#b80631" stroke="none" stroke-width="0"/>
<circle cx="341.50" cy="62.20" r="1.85" fill="#ffffff" stroke="#2d5290" stroke-width="1.15"/>
<circle cx="339.50" cy="66.80" r="1.85" fill="#ffffff" stroke="#2d5290" stroke-width="1.15"/>
<circle cx="342.00" cy="68.50" r="1.85" fill="#ffffff" stroke="#2d5290" stroke-width="1.15"/>
<circle cx="344.90" cy="69.10" r="1.85" fill="#ffffff" stroke="#2d5290" stroke-width="1.15"/>
<circle cx="339.20" cy="72.00" r="1.85" fill="#ffffff" stroke="#2d5290" stroke-width="1.15"/>
<circle cx="342.00" cy="75.10" r="1.85" fill="#ffffff" stroke="#2d5290" stroke-width="1.15"/>
<circle cx="342.00" cy="84.20" r="1.35" fill="#7f9bcb" stroke="none" stroke-width="0"/>
<circle cx="342.00" cy="95.00" r="1.35" fill="#7f9bcb" stroke="none" stroke-width="0"/>
<circle cx="351.00" cy="53.00" r="1.85" fill="#ffffff" stroke="#b80631" stroke-width="1.15"/>
<circle cx="354.70" cy="53.30" r="1.85" fill="#ffffff" stroke="#b80631" stroke-width="1.15"/>
<circle cx="355.80" cy="55.80" r="1.85" fill="#ffffff" stroke="#b80631" stroke-width="1.15"/>
<circle cx="349.50" cy="56.50" r="1.85" fill="#ffffff" stroke="#b80631" stroke-width="1.15"/>
<circle cx="352.40" cy="57.00" r="1.85" fill="#ffffff" stroke="#b80631" stroke-width="1.15"/>
<circle cx="351.00" cy="60.50" r="1.85" fill="#ffffff" stroke="#b80631" stroke-width="1.15"/>
<circle cx="355.50" cy="60.50" r="1.85" fill="#ffffff" stroke="#b80631" stroke-width="1.15"/>
<circle cx="348.90" cy="62.80" r="1.85" fill="#ffffff" stroke="#b80631" stroke-width="1.15"/>
<circle cx="352.90" cy="63.40" r="1.85" fill="#ffffff" stroke="#b80631" stroke-width="1.15"/>
<circle cx="352.40" cy="66.20" r="1.35" fill="#e58aa0" stroke="none" stroke-width="0"/>
<circle cx="343.40" cy="39.70" r="0.95" fill="#1a1a1a" stroke="none" stroke-width="0"/>
<circle cx="346.50" cy="39.70" r="0.95" fill="#1a1a1a" stroke="none" stroke-width="0"/>
<circle cx="349.60" cy="39.70" r="0.95" fill="#1a1a1a" stroke="none" stroke-width="0"/>
<line x1="338.50" y1="44.30" x2="353.80" y2="44.30" stroke="#1a1a1a" stroke-width="1.2" />
<line x1="374.60" y1="41.90" x2="374.60" y2="145.30" stroke="#1a1a1a" stroke-width="1.3" />
<line x1="371.40" y1="144.70" x2="374.60" y2="144.70" stroke="#1a1a1a" stroke-width="1" />
<text transform="translate(368.60 147.50)" font-size="8.0" text-anchor="end" fill="#303030" stroke="#303030" stroke-width="0.12">0</text>
<line x1="371.40" y1="111.30" x2="374.60" y2="111.30" stroke="#1a1a1a" stroke-width="1" />
<text transform="translate(368.60 114.10)" font-size="8.0" text-anchor="end" fill="#303030" stroke="#303030" stroke-width="0.12">5</text>
<line x1="371.40" y1="77.90" x2="374.60" y2="77.90" stroke="#1a1a1a" stroke-width="1" />
<text transform="translate(368.60 80.70)" font-size="8.0" text-anchor="end" fill="#303030" stroke="#303030" stroke-width="0.12">10</text>
<line x1="371.40" y1="44.50" x2="374.60" y2="44.50" stroke="#1a1a1a" stroke-width="1" />
<text transform="translate(368.60 47.30)" font-size="8.0" text-anchor="end" fill="#303030" stroke="#303030" stroke-width="0.12">15</text>
<line x1="373.10" y1="128.00" x2="374.60" y2="128.00" stroke="#1a1a1a" stroke-width="0.8" />
<line x1="373.10" y1="94.60" x2="374.60" y2="94.60" stroke="#1a1a1a" stroke-width="0.8" />
<line x1="373.10" y1="61.20" x2="374.60" y2="61.20" stroke="#1a1a1a" stroke-width="0.8" />
<line x1="374.10" y1="144.70" x2="397.00" y2="144.70" stroke="#1a1a1a" stroke-width="1.3" />
<line x1="380.40" y1="144.70" x2="380.40" y2="147.30" stroke="#1a1a1a" stroke-width="1" />
<line x1="390.60" y1="144.70" x2="390.60" y2="147.30" stroke="#1a1a1a" stroke-width="1" />
<line x1="380.40" y1="104.50" x2="380.40" y2="80.00" stroke="#2d5290" stroke-width="1.0" />
<line x1="378.10" y1="80.00" x2="382.70" y2="80.00" stroke="#2d5290" stroke-width="1.0" />
<rect x="375.30" y="104.50" width="10.00" height="40.20" fill="#2d5290" stroke="none" stroke-width="0"/>
<rect x="386.20" y="83.80" width="9.80" height="60.90" fill="#b80631" stroke="none" stroke-width="0"/>
<line x1="391.10" y1="83.80" x2="391.10" y2="58.00" stroke="#b80631" stroke-width="1.0" />
<line x1="388.80" y1="58.00" x2="393.40" y2="58.00" stroke="#b80631" stroke-width="1.0" />
<circle cx="378.20" cy="81.80" r="1.85" fill="#ffffff" stroke="#2d5290" stroke-width="1.15"/>
<circle cx="383.00" cy="81.20" r="1.85" fill="#ffffff" stroke="#2d5290" stroke-width="1.15"/>
<circle cx="380.50" cy="86.50" r="1.85" fill="#ffffff" stroke="#2d5290" stroke-width="1.15"/>
<circle cx="379.20" cy="93.00" r="1.85" fill="#ffffff" stroke="#2d5290" stroke-width="1.15"/>
<circle cx="383.30" cy="92.60" r="1.85" fill="#ffffff" stroke="#2d5290" stroke-width="1.15"/>
<circle cx="377.60" cy="119.80" r="1.35" fill="#7f9bcb" stroke="none" stroke-width="0"/>
<circle cx="380.20" cy="123.90" r="1.35" fill="#7f9bcb" stroke="none" stroke-width="0"/>
<circle cx="380.20" cy="132.00" r="1.35" fill="#7f9bcb" stroke="none" stroke-width="0"/>
<circle cx="383.00" cy="131.50" r="1.35" fill="#7f9bcb" stroke="none" stroke-width="0"/>
<circle cx="387.60" cy="48.50" r="1.85" fill="#ffffff" stroke="#b80631" stroke-width="1.15"/>
<circle cx="390.60" cy="53.70" r="1.85" fill="#ffffff" stroke="#b80631" stroke-width="1.15"/>
<circle cx="394.50" cy="53.40" r="1.85" fill="#ffffff" stroke="#b80631" stroke-width="1.15"/>
<circle cx="391.10" cy="69.50" r="1.85" fill="#ffffff" stroke="#b80631" stroke-width="1.15"/>
<circle cx="391.00" cy="92.20" r="1.35" fill="#e58aa0" stroke="none" stroke-width="0"/>
<circle cx="387.80" cy="101.40" r="1.35" fill="#e58aa0" stroke="none" stroke-width="0"/>
<circle cx="391.00" cy="104.50" r="1.35" fill="#e58aa0" stroke="none" stroke-width="0"/>
<circle cx="393.90" cy="114.30" r="1.35" fill="#e58aa0" stroke="none" stroke-width="0"/>
<circle cx="391.00" cy="118.40" r="1.35" fill="#e58aa0" stroke="none" stroke-width="0"/>
<line x1="413.60" y1="39.70" x2="413.60" y2="144.90" stroke="#1a1a1a" stroke-width="1.3" />
<line x1="410.40" y1="144.30" x2="413.60" y2="144.30" stroke="#1a1a1a" stroke-width="1" />
<text transform="translate(407.60 147.10)" font-size="8.0" text-anchor="end" fill="#303030" stroke="#303030" stroke-width="0.12">0</text>
<line x1="410.40" y1="131.55" x2="413.60" y2="131.55" stroke="#1a1a1a" stroke-width="1" />
<text transform="translate(407.60 134.35)" font-size="8.0" text-anchor="end" fill="#303030" stroke="#303030" stroke-width="0.12">5</text>
<line x1="410.40" y1="118.80" x2="413.60" y2="118.80" stroke="#1a1a1a" stroke-width="1" />
<text transform="translate(407.60 121.60)" font-size="8.0" text-anchor="end" fill="#303030" stroke="#303030" stroke-width="0.12">10</text>
<line x1="410.40" y1="106.05" x2="413.60" y2="106.05" stroke="#1a1a1a" stroke-width="1" />
<text transform="translate(407.60 108.85)" font-size="8.0" text-anchor="end" fill="#303030" stroke="#303030" stroke-width="0.12">15</text>
<line x1="410.40" y1="93.30" x2="413.60" y2="93.30" stroke="#1a1a1a" stroke-width="1" />
<text transform="translate(407.60 96.10)" font-size="8.0" text-anchor="end" fill="#303030" stroke="#303030" stroke-width="0.12">20</text>
<line x1="410.40" y1="80.55" x2="413.60" y2="80.55" stroke="#1a1a1a" stroke-width="1" />
<text transform="translate(407.60 83.35)" font-size="8.0" text-anchor="end" fill="#303030" stroke="#303030" stroke-width="0.12">25</text>
<line x1="410.40" y1="67.80" x2="413.60" y2="67.80" stroke="#1a1a1a" stroke-width="1" />
<text transform="translate(407.60 70.60)" font-size="8.0" text-anchor="end" fill="#303030" stroke="#303030" stroke-width="0.12">30</text>
<line x1="410.40" y1="55.05" x2="413.60" y2="55.05" stroke="#1a1a1a" stroke-width="1" />
<text transform="translate(407.60 57.85)" font-size="8.0" text-anchor="end" fill="#303030" stroke="#303030" stroke-width="0.12">35</text>
<line x1="410.40" y1="42.30" x2="413.60" y2="42.30" stroke="#1a1a1a" stroke-width="1" />
<text transform="translate(407.60 45.10)" font-size="8.0" text-anchor="end" fill="#303030" stroke="#303030" stroke-width="0.12">40</text>
<line x1="412.10" y1="137.93" x2="413.60" y2="137.93" stroke="#1a1a1a" stroke-width="0.8" />
<line x1="412.10" y1="125.18" x2="413.60" y2="125.18" stroke="#1a1a1a" stroke-width="0.8" />
<line x1="412.10" y1="112.43" x2="413.60" y2="112.43" stroke="#1a1a1a" stroke-width="0.8" />
<line x1="412.10" y1="99.68" x2="413.60" y2="99.68" stroke="#1a1a1a" stroke-width="0.8" />
<line x1="412.10" y1="86.93" x2="413.60" y2="86.93" stroke="#1a1a1a" stroke-width="0.8" />
<line x1="412.10" y1="74.17" x2="413.60" y2="74.17" stroke="#1a1a1a" stroke-width="0.8" />
<line x1="412.10" y1="61.42" x2="413.60" y2="61.42" stroke="#1a1a1a" stroke-width="0.8" />
<line x1="412.10" y1="48.67" x2="413.60" y2="48.67" stroke="#1a1a1a" stroke-width="0.8" />
<line x1="413.10" y1="144.30" x2="435.50" y2="144.30" stroke="#1a1a1a" stroke-width="1.3" />
<line x1="418.40" y1="144.30" x2="418.40" y2="146.90" stroke="#1a1a1a" stroke-width="1" />
<line x1="429.00" y1="144.30" x2="429.00" y2="146.90" stroke="#1a1a1a" stroke-width="1" />
<line x1="418.70" y1="79.70" x2="418.70" y2="69.50" stroke="#2d5290" stroke-width="1.0" />
<line x1="416.40" y1="69.50" x2="421.00" y2="69.50" stroke="#2d5290" stroke-width="1.0" />
<rect x="413.90" y="79.70" width="10.00" height="64.60" fill="#2d5290" stroke="none" stroke-width="0"/>
<rect x="423.90" y="103.20" width="10.40" height="41.10" fill="#b80631" stroke="none" stroke-width="0"/>
<line x1="429.00" y1="103.20" x2="429.00" y2="99.00" stroke="#b80631" stroke-width="1.0" />
<line x1="426.70" y1="99.00" x2="431.30" y2="99.00" stroke="#b80631" stroke-width="1.0" />
<circle cx="418.70" cy="58.00" r="1.85" fill="#ffffff" stroke="#2d5290" stroke-width="1.15"/>
<circle cx="418.70" cy="71.80" r="1.85" fill="#ffffff" stroke="#2d5290" stroke-width="1.15"/>
<circle cx="416.40" cy="75.80" r="1.85" fill="#ffffff" stroke="#2d5290" stroke-width="1.15"/>
<circle cx="415.40" cy="78.60" r="1.85" fill="#ffffff" stroke="#2d5290" stroke-width="1.15"/>
<circle cx="418.70" cy="86.00" r="1.35" fill="#7f9bcb" stroke="none" stroke-width="0"/>
<circle cx="416.00" cy="90.50" r="1.35" fill="#7f9bcb" stroke="none" stroke-width="0"/>
<circle cx="421.50" cy="90.50" r="1.35" fill="#7f9bcb" stroke="none" stroke-width="0"/>
<circle cx="426.50" cy="97.80" r="1.85" fill="#ffffff" stroke="#b80631" stroke-width="1.15"/>
<circle cx="431.50" cy="98.30" r="1.85" fill="#ffffff" stroke="#b80631" stroke-width="1.15"/>
<circle cx="426.00" cy="104.50" r="1.85" fill="#ffffff" stroke="#b80631" stroke-width="1.15"/>
<circle cx="429.00" cy="103.20" r="1.85" fill="#ffffff" stroke="#b80631" stroke-width="1.15"/>
<circle cx="432.00" cy="104.50" r="1.85" fill="#ffffff" stroke="#b80631" stroke-width="1.15"/>
<circle cx="425.50" cy="111.50" r="1.85" fill="#ffffff" stroke="#b80631" stroke-width="1.15"/>
<circle cx="430.00" cy="112.00" r="1.85" fill="#ffffff" stroke="#b80631" stroke-width="1.15"/>
<circle cx="427.50" cy="116.80" r="1.85" fill="#ffffff" stroke="#b80631" stroke-width="1.15"/>
<circle cx="432.50" cy="116.80" r="1.85" fill="#ffffff" stroke="#b80631" stroke-width="1.15"/>
<circle cx="423.60" cy="37.80" r="0.95" fill="#1a1a1a" stroke="none" stroke-width="0"/>
<circle cx="426.70" cy="37.80" r="0.95" fill="#1a1a1a" stroke="none" stroke-width="0"/>
<circle cx="429.80" cy="37.80" r="0.95" fill="#1a1a1a" stroke="none" stroke-width="0"/>
<line x1="418.70" y1="42.40" x2="433.80" y2="42.40" stroke="#1a1a1a" stroke-width="1.2" />
<line x1="451.20" y1="41.60" x2="451.20" y2="144.90" stroke="#1a1a1a" stroke-width="1.3" />
<line x1="448.00" y1="144.30" x2="451.20" y2="144.30" stroke="#1a1a1a" stroke-width="1" />
<text transform="translate(445.20 147.10)" font-size="8.0" text-anchor="end" fill="#303030" stroke="#303030" stroke-width="0.12">0</text>
<line x1="448.00" y1="130.00" x2="451.20" y2="130.00" stroke="#1a1a1a" stroke-width="1" />
<text transform="translate(445.20 132.80)" font-size="8.0" text-anchor="end" fill="#303030" stroke="#303030" stroke-width="0.12">10</text>
<line x1="448.00" y1="115.70" x2="451.20" y2="115.70" stroke="#1a1a1a" stroke-width="1" />
<text transform="translate(445.20 118.50)" font-size="8.0" text-anchor="end" fill="#303030" stroke="#303030" stroke-width="0.12">20</text>
<line x1="448.00" y1="101.40" x2="451.20" y2="101.40" stroke="#1a1a1a" stroke-width="1" />
<text transform="translate(445.20 104.20)" font-size="8.0" text-anchor="end" fill="#303030" stroke="#303030" stroke-width="0.12">30</text>
<line x1="448.00" y1="87.10" x2="451.20" y2="87.10" stroke="#1a1a1a" stroke-width="1" />
<text transform="translate(445.20 89.90)" font-size="8.0" text-anchor="end" fill="#303030" stroke="#303030" stroke-width="0.12">40</text>
<line x1="448.00" y1="72.80" x2="451.20" y2="72.80" stroke="#1a1a1a" stroke-width="1" />
<text transform="translate(445.20 75.60)" font-size="8.0" text-anchor="end" fill="#303030" stroke="#303030" stroke-width="0.12">50</text>
<line x1="448.00" y1="58.50" x2="451.20" y2="58.50" stroke="#1a1a1a" stroke-width="1" />
<text transform="translate(445.20 61.30)" font-size="8.0" text-anchor="end" fill="#303030" stroke="#303030" stroke-width="0.12">60</text>
<line x1="448.00" y1="44.20" x2="451.20" y2="44.20" stroke="#1a1a1a" stroke-width="1" />
<text transform="translate(445.20 47.00)" font-size="8.0" text-anchor="end" fill="#303030" stroke="#303030" stroke-width="0.12">70</text>
<line x1="449.70" y1="137.15" x2="451.20" y2="137.15" stroke="#1a1a1a" stroke-width="0.8" />
<line x1="449.70" y1="122.85" x2="451.20" y2="122.85" stroke="#1a1a1a" stroke-width="0.8" />
<line x1="449.70" y1="108.55" x2="451.20" y2="108.55" stroke="#1a1a1a" stroke-width="0.8" />
<line x1="449.70" y1="94.25" x2="451.20" y2="94.25" stroke="#1a1a1a" stroke-width="0.8" />
<line x1="449.70" y1="79.95" x2="451.20" y2="79.95" stroke="#1a1a1a" stroke-width="0.8" />
<line x1="449.70" y1="65.65" x2="451.20" y2="65.65" stroke="#1a1a1a" stroke-width="0.8" />
<line x1="449.70" y1="51.35" x2="451.20" y2="51.35" stroke="#1a1a1a" stroke-width="0.8" />
<line x1="450.70" y1="144.30" x2="473.50" y2="144.30" stroke="#1a1a1a" stroke-width="1.3" />
<line x1="457.00" y1="144.30" x2="457.00" y2="146.90" stroke="#1a1a1a" stroke-width="1" />
<line x1="467.10" y1="144.30" x2="467.10" y2="146.90" stroke="#1a1a1a" stroke-width="1" />
<rect x="451.90" y="58.40" width="10.00" height="85.90" fill="#2d5290" stroke="none" stroke-width="0"/>
<rect x="462.40" y="48.00" width="10.00" height="96.30" fill="#b80631" stroke="none" stroke-width="0"/>
<circle cx="456.60" cy="56.10" r="1.85" fill="#ffffff" stroke="#2d5290" stroke-width="1.15"/>
<circle cx="459.50" cy="54.60" r="1.85" fill="#ffffff" stroke="#2d5290" stroke-width="1.15"/>
<circle cx="454.90" cy="59.50" r="1.85" fill="#ffffff" stroke="#2d5290" stroke-width="1.15"/>
<circle cx="458.30" cy="59.50" r="1.85" fill="#ffffff" stroke="#2d5290" stroke-width="1.15"/>
<circle cx="456.60" cy="64.10" r="1.35" fill="#7f9bcb" stroke="none" stroke-width="0"/>
<circle cx="460.00" cy="67.60" r="1.35" fill="#7f9bcb" stroke="none" stroke-width="0"/>
<circle cx="456.60" cy="72.10" r="1.35" fill="#7f9bcb" stroke="none" stroke-width="0"/>
<circle cx="466.40" cy="47.50" r="1.85" fill="#ffffff" stroke="#b80631" stroke-width="1.15"/>
<circle cx="470.40" cy="46.30" r="1.85" fill="#ffffff" stroke="#b80631" stroke-width="1.15"/>
<circle cx="464.10" cy="50.90" r="1.85" fill="#ffffff" stroke="#b80631" stroke-width="1.15"/>
<circle cx="467.50" cy="53.80" r="1.85" fill="#ffffff" stroke="#b80631" stroke-width="1.15"/>
<circle cx="464.60" cy="56.60" r="1.85" fill="#ffffff" stroke="#b80631" stroke-width="1.15"/>
<circle cx="470.40" cy="57.80" r="1.85" fill="#ffffff" stroke="#b80631" stroke-width="1.15"/>
<circle cx="466.90" cy="61.80" r="1.35" fill="#e58aa0" stroke="none" stroke-width="0"/>
<circle cx="459.40" cy="37.80" r="0.95" fill="#1a1a1a" stroke="none" stroke-width="0"/>
<circle cx="462.50" cy="37.80" r="0.95" fill="#1a1a1a" stroke="none" stroke-width="0"/>
<circle cx="465.60" cy="37.80" r="0.95" fill="#1a1a1a" stroke="none" stroke-width="0"/>
<line x1="455.50" y1="42.40" x2="470.50" y2="42.40" stroke="#1a1a1a" stroke-width="1.2" />
<line x1="490.20" y1="41.60" x2="490.20" y2="144.40" stroke="#1a1a1a" stroke-width="1.3" />
<line x1="487.00" y1="143.80" x2="490.20" y2="143.80" stroke="#1a1a1a" stroke-width="1" />
<text transform="translate(484.20 146.60)" font-size="8.0" text-anchor="end" fill="#303030" stroke="#303030" stroke-width="0.12">0</text>
<line x1="487.00" y1="127.20" x2="490.20" y2="127.20" stroke="#1a1a1a" stroke-width="1" />
<text transform="translate(484.20 130.00)" font-size="8.0" text-anchor="end" fill="#303030" stroke="#303030" stroke-width="0.12">5</text>
<line x1="487.00" y1="110.60" x2="490.20" y2="110.60" stroke="#1a1a1a" stroke-width="1" />
<text transform="translate(484.20 113.40)" font-size="8.0" text-anchor="end" fill="#303030" stroke="#303030" stroke-width="0.12">10</text>
<line x1="487.00" y1="94.00" x2="490.20" y2="94.00" stroke="#1a1a1a" stroke-width="1" />
<text transform="translate(484.20 96.80)" font-size="8.0" text-anchor="end" fill="#303030" stroke="#303030" stroke-width="0.12">15</text>
<line x1="487.00" y1="77.40" x2="490.20" y2="77.40" stroke="#1a1a1a" stroke-width="1" />
<text transform="translate(484.20 80.20)" font-size="8.0" text-anchor="end" fill="#303030" stroke="#303030" stroke-width="0.12">20</text>
<line x1="487.00" y1="60.80" x2="490.20" y2="60.80" stroke="#1a1a1a" stroke-width="1" />
<text transform="translate(484.20 63.60)" font-size="8.0" text-anchor="end" fill="#303030" stroke="#303030" stroke-width="0.12">25</text>
<line x1="487.00" y1="44.20" x2="490.20" y2="44.20" stroke="#1a1a1a" stroke-width="1" />
<text transform="translate(484.20 47.00)" font-size="8.0" text-anchor="end" fill="#303030" stroke="#303030" stroke-width="0.12">30</text>
<line x1="488.70" y1="135.50" x2="490.20" y2="135.50" stroke="#1a1a1a" stroke-width="0.8" />
<line x1="488.70" y1="118.90" x2="490.20" y2="118.90" stroke="#1a1a1a" stroke-width="0.8" />
<line x1="488.70" y1="102.30" x2="490.20" y2="102.30" stroke="#1a1a1a" stroke-width="0.8" />
<line x1="488.70" y1="85.70" x2="490.20" y2="85.70" stroke="#1a1a1a" stroke-width="0.8" />
<line x1="488.70" y1="69.10" x2="490.20" y2="69.10" stroke="#1a1a1a" stroke-width="0.8" />
<line x1="488.70" y1="52.50" x2="490.20" y2="52.50" stroke="#1a1a1a" stroke-width="0.8" />
<line x1="489.70" y1="143.80" x2="511.50" y2="143.80" stroke="#1a1a1a" stroke-width="1.3" />
<line x1="495.70" y1="143.80" x2="495.70" y2="146.40" stroke="#1a1a1a" stroke-width="1" />
<line x1="505.50" y1="143.80" x2="505.50" y2="146.40" stroke="#1a1a1a" stroke-width="1" />
<line x1="495.60" y1="87.10" x2="495.60" y2="78.60" stroke="#2d5290" stroke-width="1.0" />
<line x1="493.30" y1="78.60" x2="497.90" y2="78.60" stroke="#2d5290" stroke-width="1.0" />
<rect x="490.70" y="87.10" width="10.00" height="56.70" fill="#2d5290" stroke="none" stroke-width="0"/>
<rect x="500.90" y="71.80" width="9.60" height="72.00" fill="#b80631" stroke="none" stroke-width="0"/>
<line x1="505.70" y1="71.80" x2="505.70" y2="61.60" stroke="#b80631" stroke-width="1.0" />
<line x1="503.40" y1="61.60" x2="508.00" y2="61.60" stroke="#b80631" stroke-width="1.0" />
<circle cx="494.10" cy="70.40" r="1.85" fill="#ffffff" stroke="#2d5290" stroke-width="1.15"/>
<circle cx="498.20" cy="82.70" r="1.85" fill="#ffffff" stroke="#2d5290" stroke-width="1.15"/>
<circle cx="492.80" cy="83.50" r="1.85" fill="#ffffff" stroke="#2d5290" stroke-width="1.15"/>
<circle cx="495.50" cy="88.50" r="1.85" fill="#ffffff" stroke="#2d5290" stroke-width="1.15"/>
<circle cx="495.10" cy="101.40" r="1.35" fill="#7f9bcb" stroke="none" stroke-width="0"/>
<circle cx="493.00" cy="95.00" r="1.35" fill="#7f9bcb" stroke="none" stroke-width="0"/>
<circle cx="498.00" cy="95.00" r="1.35" fill="#7f9bcb" stroke="none" stroke-width="0"/>
<circle cx="509.00" cy="50.40" r="1.85" fill="#ffffff" stroke="#b80631" stroke-width="1.15"/>
<circle cx="504.90" cy="56.10" r="1.85" fill="#ffffff" stroke="#b80631" stroke-width="1.15"/>
<circle cx="503.80" cy="69.80" r="1.85" fill="#ffffff" stroke="#b80631" stroke-width="1.15"/>
<circle cx="508.00" cy="71.50" r="1.85" fill="#ffffff" stroke="#b80631" stroke-width="1.15"/>
<circle cx="505.30" cy="95.30" r="1.35" fill="#e58aa0" stroke="none" stroke-width="0"/>
<circle cx="507.50" cy="78.00" r="1.35" fill="#e58aa0" stroke="none" stroke-width="0"/>
<circle cx="503.50" cy="83.00" r="1.35" fill="#e58aa0" stroke="none" stroke-width="0"/>
<circle cx="506.50" cy="88.00" r="1.35" fill="#e58aa0" stroke="none" stroke-width="0"/>
<circle cx="501.10" cy="38.50" r="0.95" fill="#1a1a1a" stroke="none" stroke-width="0"/>
<line x1="493.20" y1="43.10" x2="508.20" y2="43.10" stroke="#1a1a1a" stroke-width="1.2" />
<text transform="translate(263.60 93.65) rotate(-90)" font-size="9.0" text-anchor="middle" fill="#202020" textLength="84.1" lengthAdjust="spacingAndGlyphs" stroke="#202020" stroke-width="0.12">Cells in G0, G1 or S/G2/M</text>
<text transform="translate(274.30 93.45) rotate(-90)" font-size="9.0" text-anchor="middle" fill="#202020" textLength="66.9" lengthAdjust="spacingAndGlyphs" stroke="#202020" stroke-width="0.12">cell cycle phases [%]</text>
<circle cx="292.00" cy="158.60" r="3.5" fill="#2d5290" stroke="none" stroke-width="0"/>
<text transform="translate(298.10 161.90)" font-size="9.6" text-anchor="start" fill="#202020" font-style="italic" textLength="46.6" lengthAdjust="spacingAndGlyphs" stroke="#202020" stroke-width="0.12">SCL-CreER</text>
<text transform="translate(345.20 158.50)" font-size="7.0" text-anchor="start" fill="#202020" font-style="italic" textLength="7.8" lengthAdjust="spacingAndGlyphs" stroke="#202020" stroke-width="0.12">T+</text>
<text transform="translate(353.90 161.90)" font-size="9.6" text-anchor="start" fill="#202020" font-style="italic" textLength="30.8" lengthAdjust="spacingAndGlyphs" stroke="#202020" stroke-width="0.12">;Setd1a</text>
<text transform="translate(385.30 158.50)" font-size="7.0" text-anchor="start" fill="#202020" textLength="13.4" lengthAdjust="spacingAndGlyphs" stroke="#202020" stroke-width="0.12">+/+</text>
<circle cx="410.00" cy="158.40" r="3.5" fill="#b80631" stroke="none" stroke-width="0"/>
<text transform="translate(416.70 161.90)" font-size="9.6" text-anchor="start" fill="#202020" font-style="italic" textLength="46.6" lengthAdjust="spacingAndGlyphs" stroke="#202020" stroke-width="0.12">SCL-CreER</text>
<text transform="translate(463.80 158.50)" font-size="7.0" text-anchor="start" fill="#202020" font-style="italic" textLength="7.8" lengthAdjust="spacingAndGlyphs" stroke="#202020" stroke-width="0.12">T+</text>
<text transform="translate(472.50 161.90)" font-size="9.6" text-anchor="start" fill="#202020" font-style="italic" textLength="30.8" lengthAdjust="spacingAndGlyphs" stroke="#202020" stroke-width="0.12">;Setd1a</text>
<text transform="translate(503.90 158.50)" font-size="7.0" text-anchor="start" fill="#202020" font-style="italic" textLength="13.4" lengthAdjust="spacingAndGlyphs" stroke="#202020" stroke-width="0.12">F/F</text>
<text transform="translate(70.75 190.00)" font-size="8.6" text-anchor="middle" fill="#202020" textLength="26.8" lengthAdjust="spacingAndGlyphs" stroke="#202020" stroke-width="0.12">LT-HSC</text>
<line x1="19.20" y1="198.50" x2="19.20" y2="354.00" stroke="#1a1a1a" stroke-width="1.2" />
<path d="M16.9,199.8 L19.2,193.8 L21.5,199.8 Z" fill="#1a1a1a"/>
<text transform="translate(15.50 276.15) rotate(-90)" font-size="9.0" text-anchor="middle" fill="#202020" textLength="17.9" lengthAdjust="spacingAndGlyphs" stroke="#202020" stroke-width="0.12">Count</text>
<line x1="35.60" y1="259.00" x2="38.20" y2="259.00" stroke="#1a1a1a" stroke-width="1.0" />
<text transform="translate(32.30 261.20)" font-size="6.2" text-anchor="end" fill="#262626" stroke="#262626" stroke-width="0.12">0</text>
<line x1="36.70" y1="254.62" x2="38.20" y2="254.62" stroke="#1a1a1a" stroke-width="0.7" />
<line x1="36.70" y1="250.23" x2="38.20" y2="250.23" stroke="#1a1a1a" stroke-width="0.7" />
<line x1="35.60" y1="245.85" x2="38.20" y2="245.85" stroke="#1a1a1a" stroke-width="1.0" />
<text transform="translate(32.30 248.05)" font-size="6.2" text-anchor="end" fill="#262626" stroke="#262626" stroke-width="0.12">30</text>
<line x1="36.70" y1="241.47" x2="38.20" y2="241.47" stroke="#1a1a1a" stroke-width="0.7" />
<line x1="36.70" y1="237.08" x2="38.20" y2="237.08" stroke="#1a1a1a" stroke-width="0.7" />
<line x1="35.60" y1="232.70" x2="38.20" y2="232.70" stroke="#1a1a1a" stroke-width="1.0" />
<text transform="translate(32.30 234.90)" font-size="6.2" text-anchor="end" fill="#262626" stroke="#262626" stroke-width="0.12">60</text>
<line x1="36.70" y1="228.32" x2="38.20" y2="228.32" stroke="#1a1a1a" stroke-width="0.7" />
<line x1="36.70" y1="223.93" x2="38.20" y2="223.93" stroke="#1a1a1a" stroke-width="0.7" />
<line x1="35.60" y1="219.55" x2="38.20" y2="219.55" stroke="#1a1a1a" stroke-width="1.0" />
<text transform="translate(32.30 221.75)" font-size="6.2" text-anchor="end" fill="#262626" stroke="#262626" stroke-width="0.12">90</text>
<line x1="36.70" y1="215.17" x2="38.20" y2="215.17" stroke="#1a1a1a" stroke-width="0.7" />
<line x1="36.70" y1="210.78" x2="38.20" y2="210.78" stroke="#1a1a1a" stroke-width="0.7" />
<line x1="35.60" y1="206.40" x2="38.20" y2="206.40" stroke="#1a1a1a" stroke-width="1.0" />
<text transform="translate(32.30 208.60)" font-size="6.2" text-anchor="end" fill="#262626" stroke="#262626" stroke-width="0.12">120</text>
<line x1="36.70" y1="202.02" x2="38.20" y2="202.02" stroke="#1a1a1a" stroke-width="0.7" />
<line x1="36.70" y1="197.63" x2="38.20" y2="197.63" stroke="#1a1a1a" stroke-width="0.7" />
<line x1="37.90" y1="259.00" x2="37.90" y2="261.80" stroke="#1a1a1a" stroke-width="1.0" />
<line x1="41.01" y1="259.00" x2="41.01" y2="260.50" stroke="#1a1a1a" stroke-width="0.7" />
<line x1="44.12" y1="259.00" x2="44.12" y2="260.50" stroke="#1a1a1a" stroke-width="0.7" />
<line x1="47.24" y1="259.00" x2="47.24" y2="260.50" stroke="#1a1a1a" stroke-width="0.7" />
<line x1="50.35" y1="259.00" x2="50.35" y2="261.80" stroke="#1a1a1a" stroke-width="1.0" />
<line x1="53.46" y1="259.00" x2="53.46" y2="260.50" stroke="#1a1a1a" stroke-width="0.7" />
<line x1="56.57" y1="259.00" x2="56.57" y2="260.50" stroke="#1a1a1a" stroke-width="0.7" />
<line x1="59.69" y1="259.00" x2="59.69" y2="260.50" stroke="#1a1a1a" stroke-width="0.7" />
<line x1="62.80" y1="259.00" x2="62.80" y2="261.80" stroke="#1a1a1a" stroke-width="1.0" />
<line x1="65.91" y1="259.00" x2="65.91" y2="260.50" stroke="#1a1a1a" stroke-width="0.7" />
<line x1="69.02" y1="259.00" x2="69.02" y2="260.50" stroke="#1a1a1a" stroke-width="0.7" />
<line x1="72.14" y1="259.00" x2="72.14" y2="260.50" stroke="#1a1a1a" stroke-width="0.7" />
<line x1="75.25" y1="259.00" x2="75.25" y2="261.80" stroke="#1a1a1a" stroke-width="1.0" />
<line x1="78.36" y1="259.00" x2="78.36" y2="260.50" stroke="#1a1a1a" stroke-width="0.7" />
<line x1="81.47" y1="259.00" x2="81.47" y2="260.50" stroke="#1a1a1a" stroke-width="0.7" />
<line x1="84.59" y1="259.00" x2="84.59" y2="260.50" stroke="#1a1a1a" stroke-width="0.7" />
<line x1="87.70" y1="259.00" x2="87.70" y2="261.80" stroke="#1a1a1a" stroke-width="1.0" />
<line x1="90.81" y1="259.00" x2="90.81" y2="260.50" stroke="#1a1a1a" stroke-width="0.7" />
<line x1="93.92" y1="259.00" x2="93.92" y2="260.50" stroke="#1a1a1a" stroke-width="0.7" />
<line x1="97.04" y1="259.00" x2="97.04" y2="260.50" stroke="#1a1a1a" stroke-width="0.7" />
<line x1="100.15" y1="259.00" x2="100.15" y2="261.80" stroke="#1a1a1a" stroke-width="1.0" />
<path d="M57.7,258.6 L58.5,254.0 L59.3,247.5 L62.3,196.9 L65.3,247.5 L66.1,254.0 L66.9,258.6" stroke="#9a1030" stroke-width="1.8" fill="none" stroke-linejoin="round" stroke-linecap="round"/>
<line x1="38.20" y1="258.60" x2="103.10" y2="258.60" stroke="#9a1030" stroke-width="1.4" />
<rect x="38.2" y="194.0" width="64.89999999999999" height="65.0" fill="none" stroke="#1a1a1a" stroke-width="1.4"/>
<line x1="38.20" y1="209.10" x2="54.40" y2="209.10" stroke="#1a1a1a" stroke-width="1.2" />
<line x1="54.40" y1="207.60" x2="54.40" y2="210.60" stroke="#1a1a1a" stroke-width="1.0" />
<text transform="translate(46.20 206.50)" font-size="5.8" text-anchor="middle" fill="#333" stroke="#333" stroke-width="0.12">0.00</text>
<text transform="translate(93.40 211.00)" font-size="5.2" text-anchor="middle" fill="#333" stroke="#333" stroke-width="0.12">+/+</text>
<text transform="translate(40.50 265.60) rotate(-45)" font-size="6.6" text-anchor="end" fill="#262626" stroke="#262626" stroke-width="0.12">0</text>
<text transform="translate(52.95 265.60) rotate(-45)" font-size="6.6" text-anchor="end" fill="#262626" stroke="#262626" stroke-width="0.12">50K</text>
<text transform="translate(65.40 265.60) rotate(-45)" font-size="6.6" text-anchor="end" fill="#262626" stroke="#262626" stroke-width="0.12">100K</text>
<text transform="translate(77.85 265.60) rotate(-45)" font-size="6.6" text-anchor="end" fill="#262626" stroke="#262626" stroke-width="0.12">150K</text>
<text transform="translate(90.30 265.60) rotate(-45)" font-size="6.6" text-anchor="end" fill="#262626" stroke="#262626" stroke-width="0.12">200K</text>
<text transform="translate(102.75 265.60) rotate(-45)" font-size="6.6" text-anchor="end" fill="#262626" stroke="#262626" stroke-width="0.12">250K</text>
<line x1="35.30" y1="347.70" x2="37.90" y2="347.70" stroke="#1a1a1a" stroke-width="1.0" />
<text transform="translate(32.00 349.90)" font-size="6.2" text-anchor="end" fill="#262626" stroke="#262626" stroke-width="0.12">0</text>
<line x1="36.40" y1="342.77" x2="37.90" y2="342.77" stroke="#1a1a1a" stroke-width="0.7" />
<line x1="36.40" y1="337.83" x2="37.90" y2="337.83" stroke="#1a1a1a" stroke-width="0.7" />
<line x1="35.30" y1="332.90" x2="37.90" y2="332.90" stroke="#1a1a1a" stroke-width="1.0" />
<text transform="translate(32.00 335.10)" font-size="6.2" text-anchor="end" fill="#262626" stroke="#262626" stroke-width="0.12">10</text>
<line x1="36.40" y1="327.97" x2="37.90" y2="327.97" stroke="#1a1a1a" stroke-width="0.7" />
<line x1="36.40" y1="323.03" x2="37.90" y2="323.03" stroke="#1a1a1a" stroke-width="0.7" />
<line x1="35.30" y1="318.10" x2="37.90" y2="318.10" stroke="#1a1a1a" stroke-width="1.0" />
<text transform="translate(32.00 320.30)" font-size="6.2" text-anchor="end" fill="#262626" stroke="#262626" stroke-width="0.12">20</text>
<line x1="36.40" y1="313.17" x2="37.90" y2="313.17" stroke="#1a1a1a" stroke-width="0.7" />
<line x1="36.40" y1="308.23" x2="37.90" y2="308.23" stroke="#1a1a1a" stroke-width="0.7" />
<line x1="35.30" y1="303.30" x2="37.90" y2="303.30" stroke="#1a1a1a" stroke-width="1.0" />
<text transform="translate(32.00 305.50)" font-size="6.2" text-anchor="end" fill="#262626" stroke="#262626" stroke-width="0.12">30</text>
<line x1="36.40" y1="298.37" x2="37.90" y2="298.37" stroke="#1a1a1a" stroke-width="0.7" />
<line x1="36.40" y1="293.43" x2="37.90" y2="293.43" stroke="#1a1a1a" stroke-width="0.7" />
<line x1="35.30" y1="288.50" x2="37.90" y2="288.50" stroke="#1a1a1a" stroke-width="1.0" />
<text transform="translate(32.00 290.70)" font-size="6.2" text-anchor="end" fill="#262626" stroke="#262626" stroke-width="0.12">40</text>
<line x1="37.90" y1="347.70" x2="37.90" y2="350.50" stroke="#1a1a1a" stroke-width="1.0" />
<line x1="41.01" y1="347.70" x2="41.01" y2="349.20" stroke="#1a1a1a" stroke-width="0.7" />
<line x1="44.12" y1="347.70" x2="44.12" y2="349.20" stroke="#1a1a1a" stroke-width="0.7" />
<line x1="47.24" y1="347.70" x2="47.24" y2="349.20" stroke="#1a1a1a" stroke-width="0.7" />
<line x1="50.35" y1="347.70" x2="50.35" y2="350.50" stroke="#1a1a1a" stroke-width="1.0" />
<line x1="53.46" y1="347.70" x2="53.46" y2="349.20" stroke="#1a1a1a" stroke-width="0.7" />
<line x1="56.57" y1="347.70" x2="56.57" y2="349.20" stroke="#1a1a1a" stroke-width="0.7" />
<line x1="59.69" y1="347.70" x2="59.69" y2="349.20" stroke="#1a1a1a" stroke-width="0.7" />
<line x1="62.80" y1="347.70" x2="62.80" y2="350.50" stroke="#1a1a1a" stroke-width="1.0" />
<line x1="65.91" y1="347.70" x2="65.91" y2="349.20" stroke="#1a1a1a" stroke-width="0.7" />
<line x1="69.02" y1="347.70" x2="69.02" y2="349.20" stroke="#1a1a1a" stroke-width="0.7" />
<line x1="72.14" y1="347.70" x2="72.14" y2="349.20" stroke="#1a1a1a" stroke-width="0.7" />
<line x1="75.25" y1="347.70" x2="75.25" y2="350.50" stroke="#1a1a1a" stroke-width="1.0" />
<line x1="78.36" y1="347.70" x2="78.36" y2="349.20" stroke="#1a1a1a" stroke-width="0.7" />
<line x1="81.47" y1="347.70" x2="81.47" y2="349.20" stroke="#1a1a1a" stroke-width="0.7" />
<line x1="84.59" y1="347.70" x2="84.59" y2="349.20" stroke="#1a1a1a" stroke-width="0.7" />
<line x1="87.70" y1="347.70" x2="87.70" y2="350.50" stroke="#1a1a1a" stroke-width="1.0" />
<line x1="90.81" y1="347.70" x2="90.81" y2="349.20" stroke="#1a1a1a" stroke-width="0.7" />
<line x1="93.92" y1="347.70" x2="93.92" y2="349.20" stroke="#1a1a1a" stroke-width="0.7" />
<line x1="97.04" y1="347.70" x2="97.04" y2="349.20" stroke="#1a1a1a" stroke-width="0.7" />
<line x1="100.15" y1="347.70" x2="100.15" y2="350.50" stroke="#1a1a1a" stroke-width="1.0" />
<path d="M57.6,347.0 L58.6,344.3 L59.4,338.0 L60.0,330.0 L60.7,315.7 L61.4,305.0 L62.1,297.9 L63.0,289.0 L63.7,285.6 L64.3,284.8 L64.9,285.6 L65.6,289.0 L66.4,297.9 L67.1,305.0 L67.9,315.7 L68.5,328.0 L68.9,334.0 L69.6,340.5 L70.5,344.5 L71.3,347.0" stroke="#9a1030" stroke-width="1.8" fill="none" stroke-linejoin="round" stroke-linecap="round"/>
<path d="M79.5,347.0 L81.5,345.6 L83.0,345.2 L85.1,344.9 L86.5,345.6 L88.0,347.0" stroke="#9a1030" stroke-width="1.5" fill="none" stroke-linejoin="round" />
<line x1="37.90" y1="347.30" x2="103.20" y2="347.30" stroke="#9a1030" stroke-width="1.4" />
<rect x="37.9" y="282.7" width="65.30000000000001" height="65.0" fill="none" stroke="#1a1a1a" stroke-width="1.4"/>
<line x1="37.90" y1="297.40" x2="54.40" y2="297.40" stroke="#1a1a1a" stroke-width="1.2" />
<line x1="54.40" y1="295.90" x2="54.40" y2="298.90" stroke="#1a1a1a" stroke-width="1.0" />
<text transform="translate(46.20 294.80)" font-size="5.8" text-anchor="middle" fill="#333" stroke="#333" stroke-width="0.12">0.00</text>
<text transform="translate(93.40 299.30)" font-size="5.2" text-anchor="middle" fill="#333" font-style="italic" stroke="#333" stroke-width="0.12">F/F</text>
<text transform="translate(40.50 354.30) rotate(-45)" font-size="6.6" text-anchor="end" fill="#262626" stroke="#262626" stroke-width="0.12">0</text>
<text transform="translate(52.95 354.30) rotate(-45)" font-size="6.6" text-anchor="end" fill="#262626" stroke="#262626" stroke-width="0.12">50K</text>
<text transform="translate(65.40 354.30) rotate(-45)" font-size="6.6" text-anchor="end" fill="#262626" stroke="#262626" stroke-width="0.12">100K</text>
<text transform="translate(77.85 354.30) rotate(-45)" font-size="6.6" text-anchor="end" fill="#262626" stroke="#262626" stroke-width="0.12">150K</text>
<text transform="translate(90.30 354.30) rotate(-45)" font-size="6.6" text-anchor="end" fill="#262626" stroke="#262626" stroke-width="0.12">200K</text>
<text transform="translate(102.75 354.30) rotate(-45)" font-size="6.6" text-anchor="end" fill="#262626" stroke="#262626" stroke-width="0.12">250K</text>
<line x1="32.50" y1="368.90" x2="99.50" y2="368.90" stroke="#1a1a1a" stroke-width="1.5" />
<path d="M98.3,366.3 L103.5,368.9 L98.3,371.5 Z" fill="#1a1a1a"/>
<text transform="translate(68.10 379.50)" font-size="9.0" text-anchor="middle" fill="#2a2a2a" textLength="14.6" lengthAdjust="spacingAndGlyphs" stroke="#2a2a2a" stroke-width="0.12">DAPI</text>
<text transform="translate(173.55 203.00)" font-size="9.2" text-anchor="middle" fill="#202020" textLength="27.2" lengthAdjust="spacingAndGlyphs" stroke="#202020" stroke-width="0.12">subG1</text>
<line x1="134.30" y1="205.90" x2="213.90" y2="205.90" stroke="#1a1a1a" stroke-width="1.2" />
<text transform="translate(151.20 216.00)" font-size="9.2" text-anchor="middle" fill="#202020" textLength="8.6" lengthAdjust="spacingAndGlyphs" stroke="#202020" stroke-width="0.12">LT</text>
<text transform="translate(195.60 216.00)" font-size="9.2" text-anchor="middle" fill="#202020" textLength="10.6" lengthAdjust="spacingAndGlyphs" stroke="#202020" stroke-width="0.12">ST</text>
<line x1="141.40" y1="224.30" x2="141.40" y2="331.60" stroke="#1a1a1a" stroke-width="1.3" />
<line x1="138.80" y1="331.10" x2="172.90" y2="331.10" stroke="#1a1a1a" stroke-width="1.3" />
<line x1="138.40" y1="331.10" x2="141.40" y2="331.10" stroke="#1a1a1a" stroke-width="1" />
<text transform="translate(135.40 333.90)" font-size="8.0" text-anchor="end" fill="#303030" stroke="#303030" stroke-width="0.12">0.0</text>
<line x1="139.80" y1="318.05" x2="141.40" y2="318.05" stroke="#1a1a1a" stroke-width="0.8" />
<line x1="138.40" y1="305.00" x2="141.40" y2="305.00" stroke="#1a1a1a" stroke-width="1" />
<text transform="translate(135.40 307.80)" font-size="8.0" text-anchor="end" fill="#303030" stroke="#303030" stroke-width="0.12">0.2</text>
<line x1="139.80" y1="291.95" x2="141.40" y2="291.95" stroke="#1a1a1a" stroke-width="0.8" />
<line x1="138.40" y1="278.90" x2="141.40" y2="278.90" stroke="#1a1a1a" stroke-width="1" />
<text transform="translate(135.40 281.70)" font-size="8.0" text-anchor="end" fill="#303030" stroke="#303030" stroke-width="0.12">0.4</text>
<line x1="139.80" y1="265.85" x2="141.40" y2="265.85" stroke="#1a1a1a" stroke-width="0.8" />
<line x1="138.40" y1="252.80" x2="141.40" y2="252.80" stroke="#1a1a1a" stroke-width="1" />
<text transform="translate(135.40 255.60)" font-size="8.0" text-anchor="end" fill="#303030" stroke="#303030" stroke-width="0.12">0.6</text>
<line x1="139.80" y1="239.75" x2="141.40" y2="239.75" stroke="#1a1a1a" stroke-width="0.8" />
<line x1="138.40" y1="226.70" x2="141.40" y2="226.70" stroke="#1a1a1a" stroke-width="1" />
<text transform="translate(135.40 229.50)" font-size="8.0" text-anchor="end" fill="#303030" stroke="#303030" stroke-width="0.12">0.8</text>
<line x1="180.70" y1="222.60" x2="180.70" y2="331.60" stroke="#1a1a1a" stroke-width="1.3" />
<line x1="177.60" y1="331.10" x2="212.90" y2="331.10" stroke="#1a1a1a" stroke-width="1.3" />
<line x1="177.70" y1="331.10" x2="180.70" y2="331.10" stroke="#1a1a1a" stroke-width="1" />
<line x1="179.10" y1="317.86" x2="180.70" y2="317.86" stroke="#1a1a1a" stroke-width="0.8" />
<line x1="177.70" y1="304.62" x2="180.70" y2="304.62" stroke="#1a1a1a" stroke-width="1" />
<line x1="179.10" y1="291.39" x2="180.70" y2="291.39" stroke="#1a1a1a" stroke-width="0.8" />
<line x1="177.70" y1="278.15" x2="180.70" y2="278.15" stroke="#1a1a1a" stroke-width="1" />
<line x1="179.10" y1="264.91" x2="180.70" y2="264.91" stroke="#1a1a1a" stroke-width="0.8" />
<line x1="177.70" y1="251.68" x2="180.70" y2="251.68" stroke="#1a1a1a" stroke-width="1" />
<line x1="179.10" y1="238.44" x2="180.70" y2="238.44" stroke="#1a1a1a" stroke-width="0.8" />
<line x1="177.70" y1="225.20" x2="180.70" y2="225.20" stroke="#1a1a1a" stroke-width="1" />
<line x1="149.80" y1="331.10" x2="149.80" y2="334.10" stroke="#1a1a1a" stroke-width="1" />
<line x1="166.00" y1="331.10" x2="166.00" y2="334.10" stroke="#1a1a1a" stroke-width="1" />
<line x1="188.30" y1="331.10" x2="188.30" y2="334.10" stroke="#1a1a1a" stroke-width="1" />
<line x1="204.90" y1="331.10" x2="204.90" y2="334.10" stroke="#1a1a1a" stroke-width="1" />
<rect x="142.00" y="329.50" width="14.80" height="1.60" fill="#2d5290" stroke="none" stroke-width="0"/>
<line x1="149.80" y1="329.50" x2="149.80" y2="324.90" stroke="#2d5290" stroke-width="1.0" />
<line x1="146.50" y1="324.90" x2="152.90" y2="324.90" stroke="#2d5290" stroke-width="1.0" />
<line x1="188.00" y1="292.10" x2="188.00" y2="255.10" stroke="#2d5290" stroke-width="1.0" />
<line x1="185.00" y1="255.10" x2="191.00" y2="255.10" stroke="#2d5290" stroke-width="1.0" />
<rect x="180.60" y="292.10" width="14.60" height="39.00" fill="#2d5290" stroke="none" stroke-width="0"/>
<line x1="204.90" y1="316.00" x2="204.90" y2="300.40" stroke="#b80631" stroke-width="1.0" />
<line x1="201.20" y1="300.40" x2="208.60" y2="300.40" stroke="#b80631" stroke-width="1.0" />
<rect x="197.50" y="316.00" width="14.70" height="15.10" fill="#b80631" stroke="none" stroke-width="0"/>
<text transform="translate(120.50 277.85) rotate(-90)" font-size="9.0" text-anchor="middle" fill="#202020" textLength="59.3" lengthAdjust="spacingAndGlyphs" stroke="#202020" stroke-width="0.12">Cells in subG1 [%]</text>
<text transform="translate(265.85 217.50)" font-size="9.4" text-anchor="middle" fill="#202020" textLength="8.4" lengthAdjust="spacingAndGlyphs" stroke="#202020" stroke-width="0.12">LT</text>
<text transform="translate(294.70 217.50)" font-size="9.4" text-anchor="middle" fill="#202020" textLength="10.6" lengthAdjust="spacingAndGlyphs" stroke="#202020" stroke-width="0.12">ST</text>
<line x1="254.90" y1="220.50" x2="277.90" y2="220.50" stroke="#1a1a1a" stroke-width="1.1" />
<line x1="283.50" y1="220.50" x2="306.80" y2="220.50" stroke="#1a1a1a" stroke-width="1.1" />
<line x1="251.50" y1="223.60" x2="251.50" y2="331.20" stroke="#1a1a1a" stroke-width="1.3" />
<line x1="250.90" y1="330.60" x2="303.70" y2="330.60" stroke="#1a1a1a" stroke-width="1.3" />
<line x1="248.50" y1="330.60" x2="251.50" y2="330.60" stroke="#1a1a1a" stroke-width="1" />
<text transform="translate(245.50 333.40)" font-size="8.0" text-anchor="end" fill="#303030" stroke="#303030" stroke-width="0.12">0.0</text>
<line x1="250.00" y1="313.15" x2="251.50" y2="313.15" stroke="#1a1a1a" stroke-width="0.8" />
<line x1="248.50" y1="295.70" x2="251.50" y2="295.70" stroke="#1a1a1a" stroke-width="1" />
<text transform="translate(245.50 298.50)" font-size="8.0" text-anchor="end" fill="#303030" stroke="#303030" stroke-width="0.12">0.2</text>
<line x1="250.00" y1="278.25" x2="251.50" y2="278.25" stroke="#1a1a1a" stroke-width="0.8" />
<line x1="248.50" y1="260.80" x2="251.50" y2="260.80" stroke="#1a1a1a" stroke-width="1" />
<text transform="translate(245.50 263.60)" font-size="8.0" text-anchor="end" fill="#303030" stroke="#303030" stroke-width="0.12">0.4</text>
<line x1="250.00" y1="243.35" x2="251.50" y2="243.35" stroke="#1a1a1a" stroke-width="0.8" />
<line x1="248.50" y1="225.90" x2="251.50" y2="225.90" stroke="#1a1a1a" stroke-width="1" />
<text transform="translate(245.50 228.70)" font-size="8.0" text-anchor="end" fill="#303030" stroke="#303030" stroke-width="0.12">0.6</text>
<line x1="257.80" y1="330.60" x2="257.80" y2="333.20" stroke="#1a1a1a" stroke-width="1" />
<line x1="271.10" y1="330.60" x2="271.10" y2="333.20" stroke="#1a1a1a" stroke-width="1" />
<line x1="284.60" y1="330.60" x2="284.60" y2="333.20" stroke="#1a1a1a" stroke-width="1" />
<line x1="298.10" y1="330.60" x2="298.10" y2="333.20" stroke="#1a1a1a" stroke-width="1" />
<line x1="258.00" y1="319.00" x2="258.00" y2="295.50" stroke="#2d5290" stroke-width="1.0" />
<line x1="255.60" y1="319.00" x2="260.40" y2="319.00" stroke="#2d5290" stroke-width="1.0" />
<line x1="255.60" y1="295.50" x2="260.40" y2="295.50" stroke="#2d5290" stroke-width="1.0" />
<circle cx="257.80" cy="291.00" r="2.3" fill="#2d5290" stroke="none" stroke-width="0"/>
<circle cx="255.30" cy="316.00" r="2.3" fill="#2d5290" stroke="none" stroke-width="0"/>
<circle cx="261.70" cy="316.00" r="2.3" fill="#2d5290" stroke="none" stroke-width="0"/>
<circle cx="258.30" cy="317.50" r="2.3" fill="#2d5290" stroke="none" stroke-width="0"/>
<line x1="253.80" y1="307.50" x2="262.20" y2="307.50" stroke="#111" stroke-width="1.2" />
<line x1="271.50" y1="321.00" x2="271.50" y2="272.60" stroke="#b80631" stroke-width="1.0" />
<line x1="269.10" y1="321.00" x2="273.90" y2="321.00" stroke="#b80631" stroke-width="1.0" />
<line x1="269.10" y1="272.60" x2="273.90" y2="272.60" stroke="#b80631" stroke-width="1.0" />
<circle cx="270.10" cy="271.80" r="2.3" fill="#b80631" stroke="none" stroke-width="0"/>
<circle cx="275.20" cy="268.00" r="2.3" fill="#b80631" stroke="none" stroke-width="0"/>
<circle cx="271.30" cy="308.80" r="2.3" fill="#b80631" stroke="none" stroke-width="0"/>
<circle cx="270.10" cy="321.00" r="2.3" fill="#b80631" stroke="none" stroke-width="0"/>
<circle cx="275.20" cy="319.50" r="2.3" fill="#b80631" stroke="none" stroke-width="0"/>
<line x1="267.30" y1="298.10" x2="275.70" y2="298.10" stroke="#111" stroke-width="1.2" />
<line x1="284.80" y1="326.10" x2="284.80" y2="270.10" stroke="#2d5290" stroke-width="1.0" />
<line x1="282.40" y1="326.10" x2="287.20" y2="326.10" stroke="#2d5290" stroke-width="1.0" />
<line x1="282.40" y1="270.10" x2="287.20" y2="270.10" stroke="#2d5290" stroke-width="1.0" />
<circle cx="284.60" cy="257.30" r="2.3" fill="#2d5290" stroke="none" stroke-width="0"/>
<circle cx="280.30" cy="305.00" r="2.3" fill="#2d5290" stroke="none" stroke-width="0"/>
<circle cx="286.60" cy="310.00" r="2.3" fill="#2d5290" stroke="none" stroke-width="0"/>
<circle cx="284.60" cy="321.00" r="2.3" fill="#2d5290" stroke="none" stroke-width="0"/>
<line x1="280.60" y1="298.60" x2="289.00" y2="298.60" stroke="#111" stroke-width="1.2" />
<line x1="298.10" y1="318.50" x2="298.10" y2="293.00" stroke="#b80631" stroke-width="1.0" />
<line x1="295.70" y1="318.50" x2="300.50" y2="318.50" stroke="#b80631" stroke-width="1.0" />
<line x1="295.70" y1="293.00" x2="300.50" y2="293.00" stroke="#b80631" stroke-width="1.0" />
<circle cx="298.10" cy="283.80" r="2.3" fill="#b80631" stroke="none" stroke-width="0"/>
<circle cx="298.10" cy="308.30" r="2.3" fill="#b80631" stroke="none" stroke-width="0"/>
<circle cx="298.10" cy="315.70" r="2.3" fill="#b80631" stroke="none" stroke-width="0"/>
<line x1="293.90" y1="306.20" x2="302.30" y2="306.20" stroke="#111" stroke-width="1.2" />
<text transform="translate(231.80 277.25) rotate(-90)" font-size="9.0" text-anchor="middle" fill="#202020" textLength="62.7" lengthAdjust="spacingAndGlyphs" stroke="#202020" stroke-width="0.12">% Annexin V<tspan font-size='6' dy='-3.2'>+</tspan><tspan dy='3.2'> cells</tspan></text>
<text transform="translate(380.75 217.10)" font-size="9.4" text-anchor="middle" fill="#202020" textLength="25.8" lengthAdjust="spacingAndGlyphs" stroke="#202020" stroke-width="0.12">LT+ST</text>
<line x1="361.30" y1="220.60" x2="401.10" y2="220.60" stroke="#1a1a1a" stroke-width="1.2" />
<line x1="357.70" y1="225.20" x2="357.70" y2="332.30" stroke="#1a1a1a" stroke-width="1.3" />
<line x1="357.10" y1="331.70" x2="394.60" y2="331.70" stroke="#1a1a1a" stroke-width="1.3" />
<line x1="354.70" y1="331.70" x2="357.70" y2="331.70" stroke="#1a1a1a" stroke-width="1" />
<text transform="translate(351.70 334.50)" font-size="8.0" text-anchor="end" fill="#303030" stroke="#303030" stroke-width="0.12">0.8</text>
<line x1="356.20" y1="318.70" x2="357.70" y2="318.70" stroke="#1a1a1a" stroke-width="0.8" />
<line x1="354.70" y1="305.70" x2="357.70" y2="305.70" stroke="#1a1a1a" stroke-width="1" />
<text transform="translate(351.70 308.50)" font-size="8.0" text-anchor="end" fill="#303030" stroke="#303030" stroke-width="0.12">1.0</text>
<line x1="356.20" y1="292.70" x2="357.70" y2="292.70" stroke="#1a1a1a" stroke-width="0.8" />
<line x1="354.70" y1="279.70" x2="357.70" y2="279.70" stroke="#1a1a1a" stroke-width="1" />
<text transform="translate(351.70 282.50)" font-size="8.0" text-anchor="end" fill="#303030" stroke="#303030" stroke-width="0.12">1.2</text>
<line x1="356.20" y1="266.70" x2="357.70" y2="266.70" stroke="#1a1a1a" stroke-width="0.8" />
<line x1="354.70" y1="253.70" x2="357.70" y2="253.70" stroke="#1a1a1a" stroke-width="1" />
<text transform="translate(351.70 256.50)" font-size="8.0" text-anchor="end" fill="#303030" stroke="#303030" stroke-width="0.12">1.4</text>
<line x1="356.20" y1="240.70" x2="357.70" y2="240.70" stroke="#1a1a1a" stroke-width="0.8" />
<line x1="354.70" y1="227.70" x2="357.70" y2="227.70" stroke="#1a1a1a" stroke-width="1" />
<text transform="translate(351.70 230.50)" font-size="8.0" text-anchor="end" fill="#303030" stroke="#303030" stroke-width="0.12">1.6</text>
<line x1="367.00" y1="331.70" x2="367.00" y2="334.30" stroke="#1a1a1a" stroke-width="1" />
<line x1="385.40" y1="331.70" x2="385.40" y2="334.30" stroke="#1a1a1a" stroke-width="1" />
<line x1="366.80" y1="294.50" x2="366.80" y2="316.50" stroke="#2d5290" stroke-width="1.0" />
<circle cx="363.00" cy="296.90" r="2.3" fill="#2d5290" stroke="none" stroke-width="0"/>
<circle cx="366.20" cy="299.80" r="2.3" fill="#2d5290" stroke="none" stroke-width="0"/>
<circle cx="370.50" cy="294.70" r="2.3" fill="#2d5290" stroke="none" stroke-width="0"/>
<circle cx="368.90" cy="298.50" r="2.3" fill="#2d5290" stroke="none" stroke-width="0"/>
<circle cx="364.60" cy="301.70" r="2.3" fill="#2d5290" stroke="none" stroke-width="0"/>
<circle cx="367.50" cy="303.00" r="2.3" fill="#2d5290" stroke="none" stroke-width="0"/>
<circle cx="364.00" cy="309.20" r="2.3" fill="#2d5290" stroke="none" stroke-width="0"/>
<circle cx="366.70" cy="311.20" r="2.3" fill="#2d5290" stroke="none" stroke-width="0"/>
<circle cx="363.50" cy="318.30" r="2.3" fill="#2d5290" stroke="none" stroke-width="0"/>
<circle cx="369.90" cy="316.70" r="2.3" fill="#2d5290" stroke="none" stroke-width="0"/>
<line x1="360.80" y1="305.40" x2="373.10" y2="305.40" stroke="#111" stroke-width="1.3" />
<line x1="385.40" y1="287.20" x2="385.40" y2="321.60" stroke="#b80631" stroke-width="1.0" />
<line x1="382.00" y1="287.20" x2="388.90" y2="287.20" stroke="#b80631" stroke-width="1.0" />
<line x1="382.00" y1="321.60" x2="388.90" y2="321.60" stroke="#b80631" stroke-width="1.0" />
<circle cx="385.40" cy="259.40" r="2.3" fill="#b80631" stroke="none" stroke-width="0"/>
<circle cx="384.90" cy="295.30" r="2.3" fill="#b80631" stroke="none" stroke-width="0"/>
<circle cx="381.20" cy="303.80" r="2.3" fill="#b80631" stroke="none" stroke-width="0"/>
<circle cx="389.20" cy="304.90" r="2.3" fill="#b80631" stroke="none" stroke-width="0"/>
<circle cx="382.30" cy="310.30" r="2.3" fill="#b80631" stroke="none" stroke-width="0"/>
<circle cx="387.10" cy="309.70" r="2.3" fill="#b80631" stroke="none" stroke-width="0"/>
<circle cx="384.90" cy="313.20" r="2.3" fill="#b80631" stroke="none" stroke-width="0"/>
<circle cx="382.80" cy="316.10" r="2.3" fill="#b80631" stroke="none" stroke-width="0"/>
<circle cx="385.50" cy="318.30" r="2.3" fill="#b80631" stroke="none" stroke-width="0"/>
<circle cx="388.20" cy="312.90" r="2.3" fill="#b80631" stroke="none" stroke-width="0"/>
<line x1="379.00" y1="303.80" x2="390.80" y2="303.80" stroke="#111" stroke-width="1.3" />
<text transform="translate(324.80 277.70) rotate(-90)" font-size="9.0" text-anchor="middle" fill="#202020" textLength="81.2" lengthAdjust="spacingAndGlyphs" stroke="#202020" stroke-width="0.12">MFI γH2A.X (fold-change</text>
<text transform="translate(336.20 277.55) rotate(-90)" font-size="9.0" text-anchor="middle" fill="#202020" textLength="67.9" lengthAdjust="spacingAndGlyphs" stroke="#202020" stroke-width="0.12">to average wild type)</text>
<text transform="translate(459.00 217.10)" font-size="9.4" text-anchor="middle" fill="#202020" textLength="8.6" lengthAdjust="spacingAndGlyphs" stroke="#202020" stroke-width="0.12">LT</text>
<text transform="translate(487.25 217.10)" font-size="9.4" text-anchor="middle" fill="#202020" textLength="10.4" lengthAdjust="spacingAndGlyphs" stroke="#202020" stroke-width="0.12">ST</text>
<line x1="447.50" y1="220.20" x2="470.40" y2="220.20" stroke="#1a1a1a" stroke-width="1.2" />
<line x1="475.90" y1="220.20" x2="499.00" y2="220.20" stroke="#1a1a1a" stroke-width="1.2" />
<line x1="445.90" y1="223.50" x2="445.90" y2="331.60" stroke="#1a1a1a" stroke-width="1.3" />
<line x1="445.30" y1="331.00" x2="504.30" y2="331.00" stroke="#1a1a1a" stroke-width="1.3" />
<line x1="442.90" y1="331.00" x2="445.90" y2="331.00" stroke="#1a1a1a" stroke-width="1" />
<text transform="translate(439.90 333.80)" font-size="8.0" text-anchor="end" fill="#303030" stroke="#303030" stroke-width="0.12">0</text>
<line x1="444.40" y1="317.88" x2="445.90" y2="317.88" stroke="#1a1a1a" stroke-width="0.8" />
<line x1="442.90" y1="304.75" x2="445.90" y2="304.75" stroke="#1a1a1a" stroke-width="1" />
<text transform="translate(439.90 307.55)" font-size="8.0" text-anchor="end" fill="#303030" stroke="#303030" stroke-width="0.12">2000</text>
<line x1="444.40" y1="291.62" x2="445.90" y2="291.62" stroke="#1a1a1a" stroke-width="0.8" />
<line x1="442.90" y1="278.50" x2="445.90" y2="278.50" stroke="#1a1a1a" stroke-width="1" />
<text transform="translate(439.90 281.30)" font-size="8.0" text-anchor="end" fill="#303030" stroke="#303030" stroke-width="0.12">4000</text>
<line x1="444.40" y1="265.38" x2="445.90" y2="265.38" stroke="#1a1a1a" stroke-width="0.8" />
<line x1="442.90" y1="252.25" x2="445.90" y2="252.25" stroke="#1a1a1a" stroke-width="1" />
<text transform="translate(439.90 255.05)" font-size="8.0" text-anchor="end" fill="#303030" stroke="#303030" stroke-width="0.12">6000</text>
<line x1="444.40" y1="239.12" x2="445.90" y2="239.12" stroke="#1a1a1a" stroke-width="0.8" />
<line x1="442.90" y1="226.00" x2="445.90" y2="226.00" stroke="#1a1a1a" stroke-width="1" />
<text transform="translate(439.90 228.80)" font-size="8.0" text-anchor="end" fill="#303030" stroke="#303030" stroke-width="0.12">8000</text>
<line x1="452.00" y1="331.00" x2="452.00" y2="333.60" stroke="#1a1a1a" stroke-width="1" />
<line x1="466.00" y1="331.00" x2="466.00" y2="333.60" stroke="#1a1a1a" stroke-width="1" />
<line x1="479.60" y1="331.00" x2="479.60" y2="333.60" stroke="#1a1a1a" stroke-width="1" />
<line x1="493.60" y1="331.00" x2="493.60" y2="333.60" stroke="#1a1a1a" stroke-width="1" />
<circle cx="459.60" cy="232.00" r="0.95" fill="#1a1a1a" stroke="none" stroke-width="0"/>
<circle cx="462.80" cy="232.00" r="0.95" fill="#1a1a1a" stroke="none" stroke-width="0"/>
<line x1="451.90" y1="236.20" x2="468.70" y2="236.20" stroke="#1a1a1a" stroke-width="1.2" />
<circle cx="488.80" cy="232.00" r="0.95" fill="#1a1a1a" stroke="none" stroke-width="0"/>
<line x1="479.40" y1="236.20" x2="495.80" y2="236.20" stroke="#1a1a1a" stroke-width="1.2" />
<line x1="451.90" y1="279.70" x2="451.90" y2="245.50" stroke="#2d5290" stroke-width="1.0" />
<line x1="449.50" y1="279.70" x2="454.30" y2="279.70" stroke="#2d5290" stroke-width="1.0" />
<line x1="449.50" y1="245.50" x2="454.30" y2="245.50" stroke="#2d5290" stroke-width="1.0" />
<circle cx="452.10" cy="241.70" r="2.3" fill="#2d5290" stroke="none" stroke-width="0"/>
<circle cx="448.20" cy="245.80" r="2.3" fill="#2d5290" stroke="none" stroke-width="0"/>
<circle cx="452.10" cy="246.10" r="2.3" fill="#2d5290" stroke="none" stroke-width="0"/>
<circle cx="452.10" cy="250.70" r="2.3" fill="#2d5290" stroke="none" stroke-width="0"/>
<circle cx="451.80" cy="262.90" r="2.3" fill="#2d5290" stroke="none" stroke-width="0"/>
<circle cx="448.50" cy="278.70" r="2.3" fill="#2d5290" stroke="none" stroke-width="0"/>
<circle cx="452.60" cy="279.70" r="2.3" fill="#2d5290" stroke="none" stroke-width="0"/>
<circle cx="452.10" cy="287.90" r="2.3" fill="#2d5290" stroke="none" stroke-width="0"/>
<line x1="447.95" y1="264.10" x2="455.85" y2="264.10" stroke="#111" stroke-width="1.2" />
<line x1="465.20" y1="293.50" x2="465.20" y2="283.30" stroke="#b80631" stroke-width="1.0" />
<line x1="462.80" y1="293.50" x2="467.60" y2="293.50" stroke="#b80631" stroke-width="1.0" />
<line x1="462.80" y1="283.30" x2="467.60" y2="283.30" stroke="#b80631" stroke-width="1.0" />
<circle cx="465.70" cy="278.10" r="2.3" fill="#b80631" stroke="none" stroke-width="0"/>
<circle cx="461.90" cy="284.90" r="2.3" fill="#b80631" stroke="none" stroke-width="0"/>
<circle cx="466.50" cy="284.60" r="2.3" fill="#b80631" stroke="none" stroke-width="0"/>
<circle cx="461.60" cy="289.80" r="2.3" fill="#b80631" stroke="none" stroke-width="0"/>
<circle cx="466.10" cy="288.50" r="2.3" fill="#b80631" stroke="none" stroke-width="0"/>
<circle cx="469.70" cy="293.40" r="2.3" fill="#b80631" stroke="none" stroke-width="0"/>
<circle cx="465.70" cy="297.20" r="2.3" fill="#b80631" stroke="none" stroke-width="0"/>
<circle cx="463.80" cy="292.50" r="2.3" fill="#b80631" stroke="none" stroke-width="0"/>
<line x1="460.90" y1="288.50" x2="469.50" y2="288.50" stroke="#111" stroke-width="1.2" />
<line x1="479.30" y1="289.80" x2="479.30" y2="268.60" stroke="#2d5290" stroke-width="1.0" />
<line x1="476.90" y1="289.80" x2="481.70" y2="289.80" stroke="#2d5290" stroke-width="1.0" />
<line x1="476.90" y1="268.60" x2="481.70" y2="268.60" stroke="#2d5290" stroke-width="1.0" />
<circle cx="475.40" cy="262.90" r="2.3" fill="#2d5290" stroke="none" stroke-width="0"/>
<circle cx="482.80" cy="267.00" r="2.3" fill="#2d5290" stroke="none" stroke-width="0"/>
<circle cx="479.80" cy="270.30" r="2.3" fill="#2d5290" stroke="none" stroke-width="0"/>
<circle cx="475.40" cy="276.00" r="2.3" fill="#2d5290" stroke="none" stroke-width="0"/>
<circle cx="479.50" cy="282.50" r="2.3" fill="#2d5290" stroke="none" stroke-width="0"/>
<circle cx="477.60" cy="288.20" r="2.3" fill="#2d5290" stroke="none" stroke-width="0"/>
<circle cx="482.00" cy="288.50" r="2.3" fill="#2d5290" stroke="none" stroke-width="0"/>
<circle cx="477.60" cy="291.50" r="2.3" fill="#2d5290" stroke="none" stroke-width="0"/>
<line x1="476.00" y1="276.50" x2="482.60" y2="276.50" stroke="#111" stroke-width="1.2" />
<line x1="491.80" y1="293.00" x2="491.80" y2="284.60" stroke="#b80631" stroke-width="1.0" />
<line x1="489.40" y1="293.00" x2="494.20" y2="293.00" stroke="#b80631" stroke-width="1.0" />
<line x1="489.40" y1="284.60" x2="494.20" y2="284.60" stroke="#b80631" stroke-width="1.0" />
<circle cx="487.70" cy="284.60" r="2.3" fill="#b80631" stroke="none" stroke-width="0"/>
<circle cx="495.80" cy="284.10" r="2.3" fill="#b80631" stroke="none" stroke-width="0"/>
<circle cx="489.30" cy="289.00" r="2.3" fill="#b80631" stroke="none" stroke-width="0"/>
<circle cx="494.20" cy="289.00" r="2.3" fill="#b80631" stroke="none" stroke-width="0"/>
<circle cx="488.50" cy="292.30" r="2.3" fill="#b80631" stroke="none" stroke-width="0"/>
<circle cx="495.80" cy="293.10" r="2.3" fill="#b80631" stroke="none" stroke-width="0"/>
<circle cx="491.80" cy="294.70" r="2.3" fill="#b80631" stroke="none" stroke-width="0"/>
<line x1="487.90" y1="288.20" x2="495.70" y2="288.20" stroke="#111" stroke-width="1.2" />
<text transform="translate(418.00 277.30) rotate(-90)" font-size="9.0" text-anchor="middle" fill="#202020" textLength="74.4" lengthAdjust="spacingAndGlyphs" stroke="#202020" stroke-width="0.12">MFI Cell Rox Deep Red</text>
<circle cx="203.20" cy="348.20" r="3.5" fill="#2d5290" stroke="none" stroke-width="0"/>
<text transform="translate(208.90 351.60)" font-size="9.6" text-anchor="start" fill="#202020" font-style="italic" textLength="46.6" lengthAdjust="spacingAndGlyphs" stroke="#202020" stroke-width="0.12">SCL-CreER</text>
<text transform="translate(256.00 348.20)" font-size="7.0" text-anchor="start" fill="#202020" font-style="italic" textLength="7.8" lengthAdjust="spacingAndGlyphs" stroke="#202020" stroke-width="0.12">T+</text>
<text transform="translate(264.70 351.60)" font-size="9.6" text-anchor="start" fill="#202020" font-style="italic" textLength="30.8" lengthAdjust="spacingAndGlyphs" stroke="#202020" stroke-width="0.12">;Setd1a</text>
<text transform="translate(296.10 348.20)" font-size="7.0" text-anchor="start" fill="#202020" textLength="13.4" lengthAdjust="spacingAndGlyphs" stroke="#202020" stroke-width="0.12">+/+</text>
<circle cx="320.40" cy="348.20" r="3.5" fill="#b80631" stroke="none" stroke-width="0"/>
<text transform="translate(327.50 351.60)" font-size="9.6" text-anchor="start" fill="#202020" font-style="italic" textLength="46.6" lengthAdjust="spacingAndGlyphs" stroke="#202020" stroke-width="0.12">SCL-CreER</text>
<text transform="translate(374.60 348.20)" font-size="7.0" text-anchor="start" fill="#202020" font-style="italic" textLength="7.8" lengthAdjust="spacingAndGlyphs" stroke="#202020" stroke-width="0.12">T+</text>
<text transform="translate(383.30 351.60)" font-size="9.6" text-anchor="start" fill="#202020" font-style="italic" textLength="30.8" lengthAdjust="spacingAndGlyphs" stroke="#202020" stroke-width="0.12">;Setd1a</text>
<text transform="translate(414.70 348.20)" font-size="7.0" text-anchor="start" fill="#202020" font-style="italic" textLength="13.4" lengthAdjust="spacingAndGlyphs" stroke="#202020" stroke-width="0.12">F/F</text>
<rect x="0.7" y="0.7" width="518.3" height="390.3" fill="none" stroke="#111" stroke-width="1.5"/>
</svg>
</body></html>
